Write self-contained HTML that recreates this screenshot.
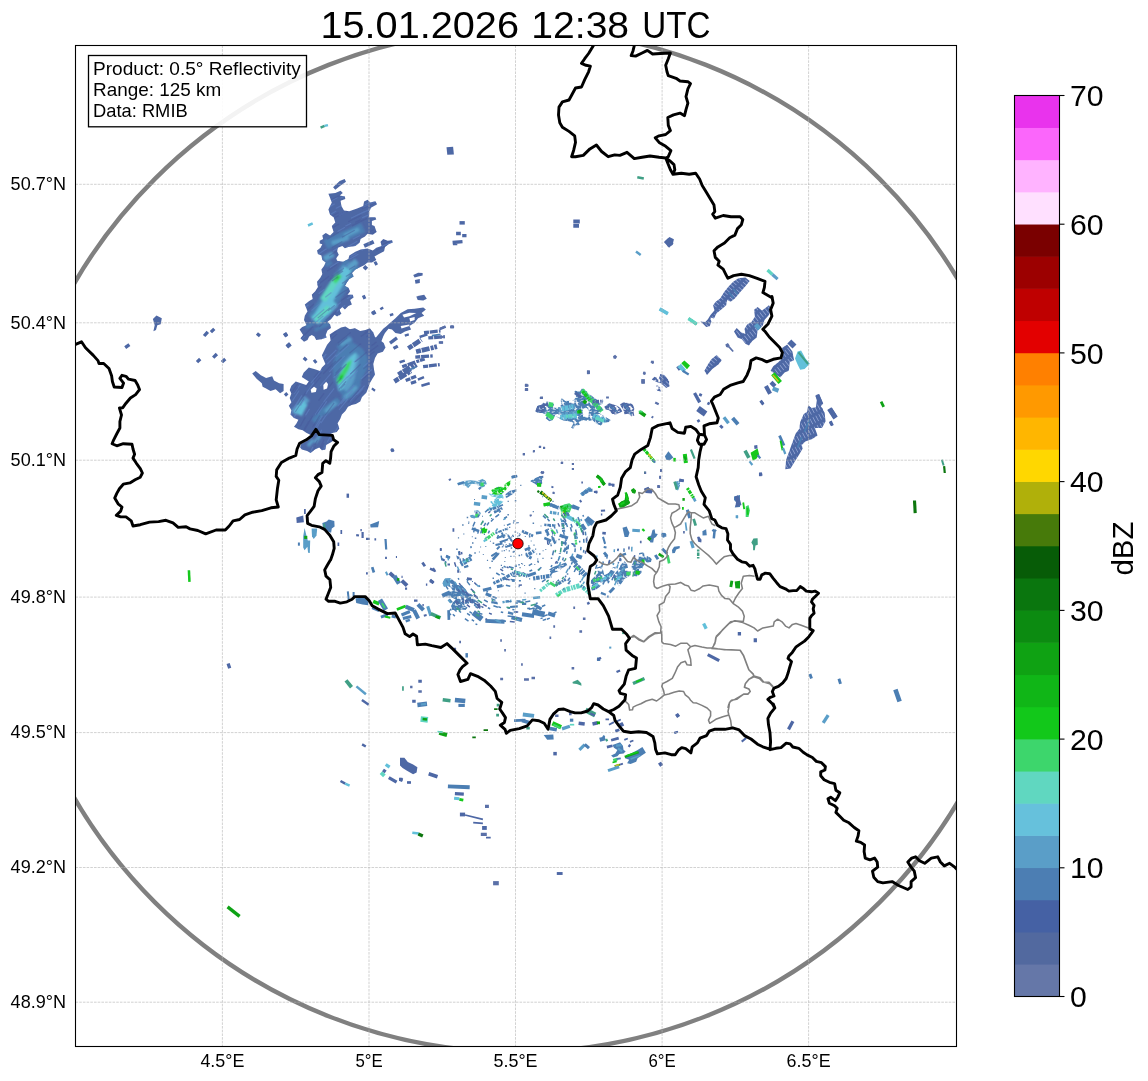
<!DOCTYPE html>
<html><head><meta charset="utf-8"><title>Radar</title>
<style>html,body{margin:0;padding:0;background:#fff}svg{display:block}text{font-family:"Liberation Sans",sans-serif;fill:#000}</style></head>
<body>
<svg width="1148" height="1081" viewBox="0 0 1148 1081">
<rect width="1148" height="1081" fill="#fff"/>
<defs><clipPath id="c"><rect x="75.5" y="45.5" width="881.0" height="1001.0"/></clipPath><filter id="bl" x="0" y="0" width="1148" height="1081" filterUnits="userSpaceOnUse"><feGaussianBlur stdDeviation="0.45"/></filter><filter id="bl2" x="0" y="0" width="1148" height="1081" filterUnits="userSpaceOnUse"><feGaussianBlur stdDeviation="0.9"/></filter></defs>
<defs><path id="sp" d="M3.3 7.6h2.5v2.5h-2.5zM8.8 0.9h1.5v2.5h-1.5zM3.6 3.3h3v2.5h-3zM5.6 12.1h2v1.5h-2zM12.2 7.3h1.5v1.2h-1.5zM2.2 13.4h1.5v2h-1.5zM2.2 -0.6h1.5v2h-1.5zM10.9 11.5h2.5v2.5h-2.5zM10.9 -2.5h2.5v2.5h-2.5zM8.3 12.9h3v2.5h-3zM8.3 -1.1h3v2.5h-3zM5.5 11.2h3v1.5h-3zM12.3 1.4h2v2.5h-2zM-1.7 1.4h2v2.5h-2zM3.0 13.5h3v2h-3zM3.0 -0.5h3v2h-3zM5.9 11.7h4v2h-4zM7.5 5.7h2v2h-2zM9.5 13.0h2.5v1.5h-2.5zM9.5 -1.0h2.5v1.5h-2.5zM9.8 4.6h4v1.2h-4zM10.0 3.0h4v2h-4zM4.0 0.9h3v1.2h-3zM4.8 0.9h2v1.2h-2zM4.1 10.8h1.5v1.2h-1.5zM8.5 10.7h3v2h-3zM7.7 12.9h2.5v1.5h-2.5zM7.7 -1.1h2.5v1.5h-2.5zM14.0 4.3h1.5v1.2h-1.5zM-0.0 4.3h1.5v1.2h-1.5zM8.4 0.4h2v2.5h-2zM4.1 3.7h1.5v2h-1.5zM4.4 13.4h3v2.5h-3zM4.4 -0.6h3v2.5h-3zM6.4 7.3h4v1.2h-4zM8.7 13.2h4v2h-4zM8.7 -0.8h4v2h-4zM6.0 10.1h2v2h-2zM6.1 3.6h2.5v2h-2.5zM0.2 5.8h4v2h-4zM0.3 8.6h2v1.2h-2zM8.9 4.7h2.5v2h-2.5zM8.5 3.9h3v1.2h-3zM8.3 13.4h1.5v2h-1.5zM8.3 -0.6h1.5v2h-1.5zM3.5 6.4h4v2h-4zM2.5 2.6h2.5v2h-2.5zM4.2 5.3h1.5v1.5h-1.5zM4.3 3.1h2.5v1.5h-2.5zM4.6 9.5h1.5v1.2h-1.5zM8.4 13.3h2v2.5h-2zM8.4 -0.7h2v2.5h-2zM11.3 13.4h1.5v2h-1.5zM11.3 -0.6h1.5v2h-1.5zM10.4 3.1h4v2.5h-4zM-3.6 3.1h4v2.5h-4zM3.8 11.0h1.5v1.5h-1.5zM4.4 11.7h4v1.5h-4zM12.1 4.8h1.5v2h-1.5zM8.3 5.9h4v2h-4zM6.5 8.9h2.5v2.5h-2.5zM8.0 0.5h3v1.5h-3zM2.8 6.7h4v2.5h-4zM7.8 13.8h2v1.2h-2zM7.8 -0.2h2v1.2h-2zM10.4 11.7h4v2h-4zM-3.6 11.7h4v2h-4zM7.6 12.5h1.5v2h-1.5zM7.6 -1.5h1.5v2h-1.5zM1.7 3.4h1.5v1.5h-1.5zM12.6 12.6h4v1.2h-4zM-1.4 12.6h4v1.2h-4zM0.2 10.4h2v2h-2zM3.3 0.3h4v2.5h-4zM0.7 12.8h1.5v2h-1.5zM0.7 -1.2h1.5v2h-1.5zM1.8 13.6h4v2.5h-4zM1.8 -0.4h4v2.5h-4zM11.4 0.9h2v1.5h-2zM1.7 12.4h1.5v1.5h-1.5z"/><pattern id="pa" width="14" height="14" patternUnits="userSpaceOnUse"><use href="#sp" fill="#4e67a5"/></pattern><pattern id="pA" width="14" height="14" patternUnits="userSpaceOnUse"><use href="#sp" fill="#5a70a8"/></pattern><pattern id="pb" width="14" height="14" patternUnits="userSpaceOnUse"><use href="#sp" fill="#4b7eb3"/></pattern><pattern id="pc" width="14" height="14" patternUnits="userSpaceOnUse"><use href="#sp" fill="#5a9ec8"/></pattern><pattern id="pd" width="14" height="14" patternUnits="userSpaceOnUse"><use href="#sp" fill="#62c0da"/></pattern><pattern id="pe" width="14" height="14" patternUnits="userSpaceOnUse"><use href="#sp" fill="#5fd5c2"/></pattern><pattern id="pf" width="14" height="14" patternUnits="userSpaceOnUse"><use href="#sp" fill="#3dd66c"/></pattern><pattern id="pg" width="14" height="14" patternUnits="userSpaceOnUse"><use href="#sp" fill="#12c81a"/></pattern><pattern id="ph" width="14" height="14" patternUnits="userSpaceOnUse"><use href="#sp" fill="#0fa213"/></pattern><pattern id="pi" width="14" height="14" patternUnits="userSpaceOnUse"><use href="#sp" fill="#0a760e"/></pattern><pattern id="pT" width="14" height="14" patternUnits="userSpaceOnUse"><use href="#sp" fill="#3f9f85"/></pattern><pattern id="py" width="14" height="14" patternUnits="userSpaceOnUse"><use href="#sp" fill="#c8c020"/></pattern><pattern id="po" width="14" height="14" patternUnits="userSpaceOnUse"><use href="#sp" fill="#ff9900"/></pattern><pattern id="n1" width="9" height="3.3" patternUnits="userSpaceOnUse" patternTransform="rotate(42)"><path d="M0 0h9v3.3h-9z" fill="#4e67a5"/><path d="M3 2.5h6v.8h-6z" fill="#8fa3d2"/></pattern><pattern id="n2" width="9" height="3.3" patternUnits="userSpaceOnUse" patternTransform="rotate(62)"><path d="M0 0h9v3.3h-9z" fill="#4e67a5"/><path d="M3 2.5h6v.8h-6z" fill="#8fa3d2"/></pattern><pattern id="n3" width="9" height="3.3" patternUnits="userSpaceOnUse" patternTransform="rotate(52)"><path d="M0 0h9v3.3h-9z" fill="#4e67a5"/><path d="M3 2.5h6v.8h-6z" fill="#8fa3d2"/></pattern></defs>
<g clip-path="url(#c)">
<g filter="url(#bl)">
<path d="M333.1 187.3L339.7 181.0L344.6 178.9L346.0 181.7L340.6 185.6L335.3 189.7Z" fill="#4e67a5"/>
<path d="M328.4 193.7L335.3 192.9L340.6 190.8L342.8 192.9L339.7 195.5L344.9 196.4L345.3 199.0L340.6 200.7L341.4 205.9L344.0 210.6L349.3 211.2L357.1 208.6L363.2 205.9L364.1 201.6L367.6 199.8L370.2 202.5L375.4 201.2L377.1 204.2L371.0 207.7L369.3 211.2L369.0 217.3L375.4 217.3L376.3 219.4L371.9 221.1L371.9 225.1L374.5 226.0L376.6 232.1L372.8 234.7L367.6 233.8L364.9 236.4L360.6 239.0L359.7 242.5L355.4 246.0L348.4 246.9L344.9 248.3L342.3 246.0L337.9 247.8L337.1 251.2L338.8 254.7L336.2 258.2L337.1 260.8L343.2 261.7L348.4 259.1L349.3 255.6L355.4 251.8L360.6 249.5L367.6 248.6L372.8 250.4L376.3 247.8L381.5 246.0L380.6 241.7L383.2 239.0L387.6 240.8L392.0 240.3L392.8 242.5L388.5 244.3L385.0 246.9L384.1 251.2L378.9 253.9L374.5 256.5L376.3 259.9L371.9 262.6L367.6 262.6L364.1 265.2L358.9 267.8L355.4 269.5L351.9 273.0L353.6 276.5L349.3 279.1L346.7 282.6L344.9 286.1L348.4 287.8L350.1 291.3L347.5 294.8L352.8 294.8L353.6 297.4L350.1 300.0L351.9 304.4L348.4 306.1L344.9 309.6L342.3 307.0L339.7 309.6L340.6 313.1L337.1 316.6L334.5 314.8L331.0 319.2L327.5 321.8L330.1 324.4L331.0 327.9L327.5 330.5L325.7 334.9L326.6 337.5L321.4 339.2L316.2 340.1L314.4 336.6L311.8 334.9L309.2 336.6L307.5 340.1L304.0 341.8L300.5 338.3L303.1 334.9L299.6 329.6L302.2 327.0L306.6 325.3L304.0 320.1L304.8 315.7L307.5 311.3L304.8 304.4L309.2 300.9L312.7 299.1L311.8 294.8L315.3 291.3L317.9 287.0L317.0 281.7L320.5 277.4L322.3 273.9L321.4 269.5L324.0 266.0L325.7 262.6L322.3 259.9L321.4 255.6L317.9 253.9L317.0 250.4L320.5 247.8L322.3 244.3L319.7 243.4L319.7 240.8L323.1 239.0L322.3 235.6L325.7 232.9L330.1 235.6L333.6 232.1L331.8 226.0L335.3 222.5L333.6 217.3L330.1 214.7L328.4 209.4L330.1 205.9L331.8 202.5L330.1 198.1Z" fill="#4e67a5"/>
<path d="M308.0 225.5L312.7 223.4" stroke="#62c0da" stroke-width="2.5" fill="none"/>
<path d="M362.7 297.8L365.5 296.5" stroke="#4e67a5" stroke-width="3.9" fill="none"/>
<path d="M371.6 313.6L375.1 311.7M380.3 309.3L383.2 307.5M389.9 315.2L393.3 314.1" stroke="#4e67a5" stroke-width="2.5" fill="none"/>
<path d="M336.2 314.5L339.7 312.4M283.9 335.4L287.1 333.3M286.6 346.5L290.0 343.6" stroke="#4e67a5" stroke-width="3.3" fill="none"/>
<path d="M364.1 246.0L373.7 241.7M374.5 264.0L377.1 262.6M364.1 269.2L366.7 266.4" stroke="#4e67a5" stroke-width="3.9" fill="none"/>
<path d="M459.5 221.1L464.8 221.1L464.8 224.6L459.5 224.6Z" fill="#4e67a5"/>
<path d="M456.1 233.5L460.8 233.5M462.2 235.7L466.5 235.7M452.6 242.5L462.5 241.7M452.9 243.7L457.3 243.7" stroke="#4e67a5" stroke-width="3.3" fill="none"/>
<path d="M413.2 275.1L418.1 272.7L422.6 273.0L422.6 275.5L418.4 276.5L414.6 277.4Z" fill="#4e67a5"/>
<path d="M414.9 280.0L419.8 279.1L419.8 283.1L415.5 283.8Z" fill="#4e67a5"/>
<path d="M416.3 296.5L421.6 295.3L424.2 294.8L426.8 298.8L423.3 300.5L417.7 300.0Z" fill="#4e67a5"/>
<path d="M390.2 322.7L395.4 318.3L400.7 313.1L407.6 309.3L414.6 308.7L423.3 307.5L425.9 309.6L421.6 313.1L424.2 315.7L418.1 318.3L414.6 322.7L409.4 326.1L411.1 329.6L405.0 331.4L400.7 334.0L395.4 333.1L392.0 329.6L388.5 328.8L385.0 333.1L383.2 336.6L381.5 341.0L376.3 344.4L374.5 339.2L378.0 334.9L383.2 328.8L386.7 326.1Z" fill="#4e67a5"/>
<path d="M402.4 314.8L409.4 312.7L416.3 313.1L409.4 316.2L404.1 317.4Z" fill="#fff"/>
<path d="M409.4 318.3L414.6 316.9L414.6 320.1L410.2 321.4Z" fill="#fff"/>
<path d="M400.7 326.1L409.4 324.4L409.4 326.1L401.5 328.4Z" fill="#fff"/>
<path d="M329.7 334.4L334.9 330.9L341.0 327.4L345.4 326.6L349.8 329.2L355.0 328.3L360.2 330.9L365.4 330.0L369.8 328.3L373.3 332.6L375.0 337.0L379.4 339.6L383.7 343.1L385.5 347.5L382.9 351.8L377.6 353.6L375.0 357.9L373.3 364.0L374.1 370.1L375.0 374.5L372.4 378.8L369.8 383.2L368.0 388.4L366.3 392.8L362.0 397.1L360.2 401.5L355.9 404.1L351.5 404.9L348.0 406.7L345.4 411.0L341.9 414.5L340.2 418.9L337.6 423.2L339.3 428.5L336.7 432.0L333.2 432.8L330.6 434.0L334.9 439.8L330.6 442.4L326.2 445.0L325.4 449.4L321.9 450.2L319.3 447.6L314.9 449.4L310.6 452.9L307.1 451.1L301.8 449.4L300.1 447.6L301.0 444.1L307.1 440.7L312.3 436.3L309.7 434.6L306.2 432.8L302.7 430.2L298.4 429.3L294.0 426.7L296.6 423.2L298.4 419.8L294.0 418.0L290.5 414.5L291.4 410.2L288.8 405.8L291.4 402.3L289.7 398.0L291.4 393.6L289.7 390.1L291.4 385.8L295.7 381.4L301.0 383.2L306.2 384.9L308.8 381.4L304.5 378.8L301.8 377.1L303.6 372.7L308.8 367.5L314.9 369.2L320.1 371.0L321.9 367.5L325.4 364.0L323.6 359.7L321.9 355.3L324.5 350.1L327.1 344.8L330.6 340.5Z" fill="#4e67a5"/>
<path d="M310.6 389.3L314.0 386.7L316.7 388.4L315.8 391.9L311.4 392.8Z" fill="#fff"/>
<path d="M323.3 384.9L326.2 381.8L328.0 384.0L327.1 388.4L323.6 389.8Z" fill="#fff"/>
<path d="M252.2 373.6L255.7 371.0L260.9 375.3L266.1 377.9L272.2 376.2L274.0 380.6L279.2 383.2L283.6 384.0L283.6 391.0L280.1 393.3L275.7 389.3L270.5 391.0L266.1 388.4L262.6 386.7L261.8 383.2L256.6 378.8Z" fill="#4e67a5"/>
<path d="M257.4 336.1L259.5 333.5M284.4 336.1L287.0 334.0M287.0 346.9L290.5 344.0M304.1 360.2L306.2 357.9M314.0 362.3L316.3 360.5M372.4 313.5L375.5 311.7M372.8 390.5L374.1 388.7M391.6 450.8L393.3 449.4M337.6 314.4L340.2 312.1" stroke="#4e67a5" stroke-width="3.9" fill="none"/>
<path d="M284.9 395.4L287.4 393.3" stroke="#4e67a5" stroke-width="3.3" fill="none"/>
<clipPath id="cb"><path d="M328.4 193.7L335.3 192.9L340.6 190.8L342.8 192.9L339.7 195.5L344.9 196.4L345.3 199.0L340.6 200.7L341.4 205.9L344.0 210.6L349.3 211.2L357.1 208.6L363.2 205.9L364.1 201.6L367.6 199.8L370.2 202.5L375.4 201.2L377.1 204.2L371.0 207.7L369.3 211.2L369.0 217.3L375.4 217.3L376.3 219.4L371.9 221.1L371.9 225.1L374.5 226.0L376.6 232.1L372.8 234.7L367.6 233.8L364.9 236.4L360.6 239.0L359.7 242.5L355.4 246.0L348.4 246.9L344.9 248.3L342.3 246.0L337.9 247.8L337.1 251.2L338.8 254.7L336.2 258.2L337.1 260.8L343.2 261.7L348.4 259.1L349.3 255.6L355.4 251.8L360.6 249.5L367.6 248.6L372.8 250.4L376.3 247.8L381.5 246.0L380.6 241.7L383.2 239.0L387.6 240.8L392.0 240.3L392.8 242.5L388.5 244.3L385.0 246.9L384.1 251.2L378.9 253.9L374.5 256.5L376.3 259.9L371.9 262.6L367.6 262.6L364.1 265.2L358.9 267.8L355.4 269.5L351.9 273.0L353.6 276.5L349.3 279.1L346.7 282.6L344.9 286.1L348.4 287.8L350.1 291.3L347.5 294.8L352.8 294.8L353.6 297.4L350.1 300.0L351.9 304.4L348.4 306.1L344.9 309.6L342.3 307.0L339.7 309.6L340.6 313.1L337.1 316.6L334.5 314.8L331.0 319.2L327.5 321.8L330.1 324.4L331.0 327.9L327.5 330.5L325.7 334.9L326.6 337.5L321.4 339.2L316.2 340.1L314.4 336.6L311.8 334.9L309.2 336.6L307.5 340.1L304.0 341.8L300.5 338.3L303.1 334.9L299.6 329.6L302.2 327.0L306.6 325.3L304.0 320.1L304.8 315.7L307.5 311.3L304.8 304.4L309.2 300.9L312.7 299.1L311.8 294.8L315.3 291.3L317.9 287.0L317.0 281.7L320.5 277.4L322.3 273.9L321.4 269.5L324.0 266.0L325.7 262.6L322.3 259.9L321.4 255.6L317.9 253.9L317.0 250.4L320.5 247.8L322.3 244.3L319.7 243.4L319.7 240.8L323.1 239.0L322.3 235.6L325.7 232.9L330.1 235.6L333.6 232.1L331.8 226.0L335.3 222.5L333.6 217.3L330.1 214.7L328.4 209.4L330.1 205.9L331.8 202.5L330.1 198.1Z M329.7 334.4L334.9 330.9L341.0 327.4L345.4 326.6L349.8 329.2L355.0 328.3L360.2 330.9L365.4 330.0L369.8 328.3L373.3 332.6L375.0 337.0L379.4 339.6L383.7 343.1L385.5 347.5L382.9 351.8L377.6 353.6L375.0 357.9L373.3 364.0L374.1 370.1L375.0 374.5L372.4 378.8L369.8 383.2L368.0 388.4L366.3 392.8L362.0 397.1L360.2 401.5L355.9 404.1L351.5 404.9L348.0 406.7L345.4 411.0L341.9 414.5L340.2 418.9L337.6 423.2L339.3 428.5L336.7 432.0L333.2 432.8L330.6 434.0L334.9 439.8L330.6 442.4L326.2 445.0L325.4 449.4L321.9 450.2L319.3 447.6L314.9 449.4L310.6 452.9L307.1 451.1L301.8 449.4L300.1 447.6L301.0 444.1L307.1 440.7L312.3 436.3L309.7 434.6L306.2 432.8L302.7 430.2L298.4 429.3L294.0 426.7L296.6 423.2L298.4 419.8L294.0 418.0L290.5 414.5L291.4 410.2L288.8 405.8L291.4 402.3L289.7 398.0L291.4 393.6L289.7 390.1L291.4 385.8L295.7 381.4L301.0 383.2L306.2 384.9L308.8 381.4L304.5 378.8L301.8 377.1L303.6 372.7L308.8 367.5L314.9 369.2L320.1 371.0L321.9 367.5L325.4 364.0L323.6 359.7L321.9 355.3L324.5 350.1L327.1 344.8L330.6 340.5Z"/></clipPath>
<g clip-path="url(#cb)"><g filter="url(#bl2)">
<path d="M325.5 244.8L363.2 227.5" stroke="#4b7eb3" stroke-width="10.0" fill="none"/>
<path d="M331.8 243.2L348.5 238.0M344.4 235.9L359.0 229.1" stroke="#5a9ec8" stroke-width="4.3" fill="none"/>
<path d="M324.0 258.9L333.4 253.9" stroke="#5a9ec8" stroke-width="5.7" fill="none"/>
<path d="M325.5 265.4L331.8 262.2" stroke="#4b7eb3" stroke-width="4.0" fill="none"/>
<path d="M316.1 320.6L352.7 263.1" stroke="#4b7eb3" stroke-width="18.4" fill="none"/>
<path d="M348.5 268.3L356.9 261.0" stroke="#5a9ec8" stroke-width="6.0" fill="none"/>
<path d="M315.6 321.1L347.5 268.3" stroke="#62c0da" stroke-width="9.4" fill="none"/>
<path d="M322.9 300.2L338.6 275.6M314.6 321.1L328.2 307.5" stroke="#5fd5c2" stroke-width="6.7" fill="none"/>
<path d="M333.9 281.9L340.0 274.8" stroke="#3dd66c" stroke-width="5.0" fill="none"/>
<path d="M336.8 278.6L338.3 276.9" stroke="#12c81a" stroke-width="3.0" fill="none"/>
<path d="M305.7 327.4L314.0 323.2" stroke="#4b7eb3" stroke-width="3.7" fill="none"/>
<path d="M332.5 364.2L336.8 353.1L343.7 344.5L352.2 341.9L362.5 348.8L367.7 357.4L366.8 369.4L360.8 381.3L357.4 389.9L352.2 397.6L345.3 398.5L340.2 393.3L336.8 386.6L333.4 378.0Z" fill="#4b7eb3"/>
<path d="M339.7 371.8L344.2 362.1L348.7 356.8L354.7 353.0L359.2 355.3L358.5 362.1L356.2 369.6L354.7 378.6L351.7 386.1L347.2 392.2L344.2 389.9L341.1 384.7L339.7 378.6Z" fill="#5a9ec8"/>
<path d="M337.5 379.4L343.8 364.8L351.1 356.4L356.3 352.3L355.3 362.7L353.2 373.2L346.9 379.4L342.7 388.9L338.5 390.9Z" fill="#62c0da"/>
<path d="M337.0 379.4L340.6 373.2L346.9 362.7L352.1 359.6L349.0 369.0L343.8 377.4L340.1 383.6L337.5 383.6Z" fill="#3dd66c"/>
<path d="M340.1 379.4L342.7 375.3" stroke="#12c81a" stroke-width="3.3" fill="none"/>
<path d="M338.5 349.1L351.1 337.6" stroke="#4b7eb3" stroke-width="6.7" fill="none"/>
<path d="M340.6 344.9L351.1 338.7" stroke="#5a9ec8" stroke-width="3.3" fill="none"/>
<path d="M293.6 413.0L307.2 398.3" stroke="#5a9ec8" stroke-width="6.7" fill="none"/>
<path d="M294.6 411.8L304.0 401.4" stroke="#62c0da" stroke-width="3.3" fill="none"/>
<path d="M319.7 413.0L338.5 400.3" stroke="#4b7eb3" stroke-width="5.0" fill="none"/>
<path d="M329.1 408.7L338.5 402.4" stroke="#5a9ec8" stroke-width="2.3" fill="none"/>
<path d="M314.5 320.9L334.4 302.1" stroke="#62c0da" stroke-width="10.0" fill="none"/>
<path d="M315.5 319.9L329.1 307.3" stroke="#5fd5c2" stroke-width="6.0" fill="none"/>
<path d="M314.5 330.3L329.1 324.0" stroke="#4b7eb3" stroke-width="3.3" fill="none"/>
</g></g>
<g clip-path="url(#cb)"><g filter="url(#bl2)">
<path d="M342.8 399.7L359.3 383.2M323.6 413.7L338.4 399.7M313.2 421.5L321.9 412.8" stroke="#4b7eb3" stroke-width="5.6" fill="none"/>
<path d="M344.5 398.0L356.7 386.7M325.4 411.9L335.8 402.3" stroke="#5a9ec8" stroke-width="3.9" fill="none"/>
<path d="M298.9 414.5L304.8 403.2" stroke="#62c0da" stroke-width="6.1" fill="none"/>
<path d="M314.9 442.4L320.1 435.4M307.9 445.9L313.2 439.8" stroke="#5a9ec8" stroke-width="3.3" fill="none"/>
</g></g>
<g clip-path="url(#cb)"><path d="M387.1 401.4L400.2 390.4M359.4 444.8L363.4 438.7M349.2 190.5L357.0 186.9M305.5 415.4L309.6 408.9M381.9 246.4L389.8 243.0M389.7 342.3L401.8 335.1M393.2 443.4L399.4 436.1M292.0 275.1L302.3 266.7M320.9 423.2L327.3 413.3M295.2 465.9L297.3 460.0M371.0 292.5L382.3 286.2M388.1 243.8L402.1 238.2M323.3 339.7L334.7 329.4M376.5 198.5L392.7 192.3M383.3 285.6L398.7 278.2M306.2 209.3L312.8 205.2M293.3 472.1L297.4 460.4M376.1 317.7L385.6 312.0M342.1 427.1L346.4 420.8M371.5 217.6L381.8 213.2M336.7 477.3L343.0 462.3M366.3 324.2L374.2 318.9M394.8 464.1L402.7 453.0M315.3 414.6L324.6 401.1M360.8 379.3L372.0 369.2M339.0 410.0L347.9 398.8M348.2 190.9L359.6 185.7M373.7 374.4L385.9 364.7M374.0 288.5L388.2 281.0M389.9 335.8L400.6 329.6M337.5 387.4L347.5 376.7M349.9 378.5L357.9 370.8M365.6 194.4L372.9 191.3M363.0 366.9L367.9 362.7M301.5 278.0L307.9 272.9M327.2 364.0L336.4 354.7M330.0 267.4L339.2 261.4M291.7 362.6L296.2 357.1M391.5 422.1L399.4 414.4M301.4 359.6L309.9 350.1M327.2 442.3L330.1 437.0M300.1 370.8L310.9 358.0M320.0 467.0L324.1 457.3M316.4 470.1L320.8 459.0M339.1 269.7L349.1 263.5M317.7 414.3L326.8 401.2M389.6 410.9L396.2 404.8M318.2 362.5L326.3 354.0M300.4 405.7L305.6 397.7M344.2 320.4L352.4 314.2M311.4 320.4L324.2 309.3M370.1 310.2L381.2 303.6M385.5 297.3L395.0 292.4M373.9 206.8L388.7 200.8M373.7 447.7L378.1 441.4M320.8 232.1L331.9 225.4M375.3 415.7L385.0 405.6M397.2 386.8L402.5 382.9M391.8 390.4L397.7 385.7M353.9 305.2L360.5 300.8M328.8 207.1L334.6 203.9M301.2 311.3L308.4 304.7M324.9 204.3L337.5 197.5M384.5 346.8L395.8 339.5M369.4 334.5L375.7 330.2M305.6 393.8L313.9 382.7M300.8 357.6L306.7 351.0M370.8 196.1L384.4 190.7M361.6 250.3L368.2 246.9M302.1 367.0L308.7 359.2M325.3 297.3L331.4 292.6M334.4 432.8L341.0 422.6M330.7 214.2L336.3 211.1M341.0 404.0L344.8 399.4M334.3 319.9L340.0 315.4M330.5 439.3L334.4 432.5M316.7 255.3L326.5 248.7M387.6 385.3L398.8 376.7M357.4 271.4L369.7 264.5M290.0 252.8L295.5 248.6M320.7 321.5L327.9 315.3M310.9 383.2L322.0 369.9M284.3 206.6L297.1 198.1M394.4 335.4L403.3 330.4M342.5 454.6L345.6 448.7M292.3 261.1L300.9 254.5M391.2 238.3L402.5 233.9M319.1 219.0L329.9 212.6M308.2 193.1L319.0 186.8M352.9 397.9L364.6 385.7M310.5 220.5L318.8 215.4M321.4 223.8L327.4 220.2M350.5 256.6L356.4 253.3M318.6 293.7L324.3 289.3M347.5 446.3L354.8 434.5M373.0 377.3L386.7 366.3M376.0 295.8L382.6 292.2M361.4 268.0L367.3 264.7M291.3 225.0L299.8 219.2M311.5 310.6L319.4 303.9M378.3 394.5L383.6 389.8M335.6 459.4L342.6 445.6M336.2 312.1L345.2 305.3M393.6 356.8L399.7 352.9M391.5 196.5L403.7 192.3M310.3 266.4L317.1 261.5M313.0 288.0L320.1 282.5M354.8 301.4L361.2 297.1M302.5 217.0L314.8 209.2M320.3 385.9L331.0 373.4M286.6 335.6L295.6 326.1M288.9 277.3L297.0 270.5M391.9 423.3L404.3 411.5M372.1 291.6L383.6 285.2M294.3 212.7L302.8 207.1M321.7 454.0L325.8 445.6M359.6 465.0L367.8 450.4M351.8 247.4L362.6 241.6M347.3 298.8L352.3 295.4M384.9 449.7L393.0 439.1M347.3 392.7L354.4 385.0M313.8 368.5L325.1 356.1M309.2 206.1L320.2 199.6M331.0 310.0L340.8 302.5M354.7 464.1L358.5 456.8M352.7 239.3L360.0 235.5M364.8 204.8L375.6 200.1M376.8 374.1L390.3 363.7M338.8 215.7L346.1 211.8M350.9 218.2L364.5 211.6M363.7 455.7L373.1 441.0M297.7 205.6L304.9 201.1M366.8 211.0L376.7 206.7M349.7 295.6L361.7 287.9M294.0 407.7L301.9 395.4M323.7 401.8L334.2 388.4M362.4 414.7L370.9 405.0M342.2 201.8L352.1 196.9M314.8 215.4L324.8 209.4M387.9 213.0L397.5 209.4M325.7 191.8L333.7 187.6M288.8 252.6L302.9 242.0M317.8 463.6L323.6 450.6M370.0 312.3L381.2 305.5M287.5 195.9L300.4 187.7M382.7 297.0L398.7 288.8M368.3 309.8L383.5 300.8M316.3 322.0L323.3 315.8M335.7 208.5L345.0 203.6M287.9 428.8L296.2 413.4M389.4 454.8L393.1 449.6M366.3 295.1L379.6 287.5M363.9 212.2L370.6 209.2M336.0 356.7L349.1 344.9M347.5 396.3L352.5 390.6M369.7 307.5L380.0 301.3M340.3 198.3L349.8 193.5M333.6 377.8L345.4 365.5M388.0 462.9L398.2 448.4M293.1 318.0L303.9 307.8M317.2 347.8L328.6 336.7M347.2 246.9L357.3 241.3M304.2 465.0L307.5 456.5M315.3 427.1L322.4 415.6M316.3 439.7L321.7 429.9M292.2 401.1L299.2 390.5M342.6 436.1L346.1 430.6M354.0 362.3L360.5 356.6M362.2 212.9L368.3 210.0M363.0 207.5L375.6 202.0M316.0 271.9L320.9 268.3M337.5 231.4L345.0 227.2M297.0 287.8L302.4 283.3M304.3 227.8L314.2 221.3M386.1 228.1L394.6 224.6M347.1 377.6L355.0 369.9M297.8 262.0L306.0 255.8M358.7 460.8L362.2 454.3M355.6 430.8L363.4 420.4M356.8 394.6L363.2 388.1M294.0 393.8L300.2 384.8M306.7 461.0L312.9 446.8M333.1 251.1L338.5 247.8M342.2 458.6L350.4 443.3M300.2 340.7L305.0 335.6M313.6 348.2L326.2 335.8M384.9 296.9L397.1 290.7M345.3 226.3L351.1 223.2M385.9 351.9L396.0 345.3M337.6 406.3L345.9 396.0M362.0 217.9L378.4 210.6M333.3 367.3L344.9 355.9M349.4 259.3L358.3 254.2M368.3 284.0L379.8 277.7M386.6 267.5L395.7 263.3M334.1 466.7L337.1 459.8M288.3 458.5L291.9 449.4M378.2 380.8L386.0 374.4M355.1 414.9L360.1 408.8M372.8 426.1L377.0 421.1M309.3 470.2L315.3 455.1M329.3 371.9L335.3 365.6M349.9 401.4L358.0 392.4M325.6 360.4L336.4 349.8M316.7 427.9L320.6 421.2M297.6 319.4L305.8 311.7M288.9 418.2L296.6 405.1M364.6 432.8L372.9 422.2M307.8 206.4L316.5 201.2M309.4 188.7L319.1 183.2" stroke="#5f84c4" stroke-width="1.2" opacity="0.55" fill="none"/><path d="M353.2 402.1L363.8 390.7M287.1 323.8L299.3 311.6M336.3 258.5L346.9 252.0M317.4 453.0L324.1 439.4M355.2 222.4L360.6 219.8M394.9 437.1L401.3 430.1M309.6 459.7L315.4 446.6M326.4 234.3L333.0 230.3M287.4 382.3L293.3 374.1M319.3 326.9L330.2 317.4M370.5 428.2L374.4 423.4M287.6 200.6L294.4 196.1M389.3 457.6L395.2 449.4M297.5 404.8L306.2 391.8M294.9 286.4L305.2 277.8M345.8 276.6L354.1 271.5M364.1 472.6L367.6 465.5M329.1 256.1L340.2 249.1M294.8 449.0L297.4 443.2M367.0 461.5L374.0 449.9M304.1 429.9L308.7 421.6M392.1 317.0L402.6 311.5M329.9 229.4L339.0 224.1M342.0 283.4L347.9 279.5M325.3 415.2L334.2 402.8M327.0 389.4L333.0 382.2M319.5 460.8L325.2 448.2M313.9 380.9L321.3 372.0M323.2 374.0L333.3 363.1M378.8 386.8L392.6 375.6M304.0 430.9L312.6 416.0M363.4 237.3L377.3 230.7M354.1 410.9L363.1 400.6M335.5 373.4L341.5 367.2M339.0 251.2L344.7 247.8M306.3 198.1L316.3 192.2M314.8 445.1L317.5 439.7M300.1 426.5L305.2 417.4M344.5 285.2L355.4 278.2M375.3 371.3L383.5 364.8M391.6 466.4L399.0 455.4M297.4 351.2L306.4 341.3M327.9 310.7L334.8 305.3M391.6 450.5L399.8 440.3M328.3 281.0L343.1 270.9M299.8 366.5L307.1 357.9M288.3 340.2L294.6 333.4M311.9 233.9L327.0 224.3M355.2 361.9L366.6 352.3M344.7 283.4L352.7 278.2M369.4 355.3L374.5 351.4M385.1 342.2L390.3 338.8M363.4 369.0L372.4 361.4M379.3 242.9L388.1 239.1M362.4 310.9L370.4 305.8M338.1 345.4L347.1 337.6M375.2 206.2L383.4 202.8M287.8 398.3L297.8 383.6M376.4 250.3L388.9 244.6M320.4 450.1L323.9 443.1M355.1 198.9L361.8 195.9M347.8 402.7L358.8 390.4M349.1 329.7L363.0 319.4M302.7 369.5L310.5 360.3M315.7 345.4L322.2 339.0M310.0 295.4L321.6 286.2M297.2 378.2L301.5 372.6M382.2 324.5L390.7 319.4M288.8 233.0L303.0 223.0M390.6 379.2L403.4 369.9M310.5 284.0L321.2 275.9M375.3 374.5L387.6 364.8M349.5 353.1L360.9 343.6M305.1 200.5L319.4 192.0M338.3 444.4L345.2 432.8M302.7 233.3L311.4 227.4M314.7 266.4L321.2 261.8M291.5 453.3L295.6 443.7M340.2 457.7L343.6 451.1M366.4 233.3L374.0 229.7M332.0 467.2L336.2 457.7M367.7 392.4L373.4 386.9M353.7 312.6L368.4 302.8M329.6 200.7L340.7 194.9M293.3 209.8L307.4 200.8M312.1 202.1L321.4 196.7M320.8 201.2L326.5 198.0M331.6 338.7L336.9 334.1M384.6 360.1L398.1 351.0M339.6 351.4L347.4 344.4M317.7 318.1L329.9 307.9M295.4 411.8L303.9 398.5M312.2 211.9L321.7 206.2M363.2 200.4L370.9 197.0M330.0 278.7L342.5 270.3M369.0 352.2L378.1 345.4M366.7 388.0L373.5 381.7M293.5 235.9L301.0 230.6M371.4 345.7L376.6 342.0M380.9 461.1L388.3 450.0M320.6 191.6L332.1 185.5M342.0 237.3L354.7 230.3M296.4 280.7L309.6 270.1M371.1 457.1L377.8 446.6M376.7 306.2L382.4 302.9M340.2 440.9L345.8 431.7M345.6 290.8L358.2 282.7M392.4 430.2L403.8 418.7M378.7 326.4L384.2 323.0M381.9 244.9L396.2 238.7M355.2 417.2L361.9 409.0M306.6 299.0L314.1 292.7M338.8 389.5L346.0 381.4M361.6 380.2L370.8 371.8M360.9 336.6L368.5 331.1M349.1 407.0L358.6 396.0M361.9 208.6L375.6 202.5M361.1 429.7L370.2 418.1M380.5 256.7L396.7 249.5M327.0 239.3L338.8 232.2M326.3 219.6L338.7 212.5M383.1 247.6L392.0 243.7M303.5 371.1L313.3 359.6M376.8 441.2L385.9 429.6M385.3 273.2L393.8 269.2M288.1 221.6L298.6 214.3M350.2 374.1L360.6 364.3M379.2 462.0L384.4 453.7M310.2 389.9L320.2 377.3M303.9 213.6L310.5 209.4M365.9 423.6L376.1 411.7M357.1 463.3L360.4 456.8M325.7 320.2L336.7 311.2M346.7 294.0L352.9 289.9M340.7 467.2L348.3 451.6M317.5 221.3L327.6 215.3M327.1 271.2L337.0 264.5M316.1 285.9L329.0 276.2M314.0 377.5L318.4 372.2M393.7 342.0L402.9 336.6M372.1 189.2L386.3 183.7M335.4 297.6L345.4 290.6M335.9 321.7L341.4 317.3M341.1 202.5L350.6 197.7M383.8 372.9L394.7 364.8M331.4 441.0L339.6 427.3M370.9 442.3L375.5 436.0M394.2 248.8L404.5 244.7M359.7 221.9L366.9 218.4M386.1 440.5L391.4 434.1M351.9 225.9L359.8 221.9M306.9 310.3L313.8 304.2M300.5 339.0L313.0 326.5M356.4 294.6L365.2 289.1M313.3 350.3L319.7 343.8M340.9 388.4L345.0 383.9M355.0 413.5L359.3 408.4M323.8 193.4L332.2 188.8M325.3 340.9L336.2 331.2M315.9 237.1L330.5 227.9M341.1 300.6L355.2 291.0M300.6 288.8L309.8 281.2M292.4 212.9L300.8 207.3M316.1 414.5L324.5 402.2M329.6 367.4L335.9 361.0M385.2 236.9L392.2 233.9M284.4 201.7L297.7 193.0M348.2 221.8L361.3 215.2M391.2 217.8L397.6 215.4M334.8 375.9L346.5 364.0M375.9 222.2L389.7 216.5M366.5 336.7L380.4 327.2M317.2 458.7L320.7 451.0M331.9 367.0L341.7 357.3M360.2 316.0L371.0 308.9M337.9 343.2L350.7 332.4M373.2 426.9L379.4 419.6M381.7 263.2L394.0 257.6M371.5 282.6L377.9 279.1M293.7 467.0L297.3 457.1M332.0 280.9L337.9 276.8M381.2 204.6L390.1 201.1M385.5 331.2L391.7 327.4M349.0 269.5L355.3 265.8M334.6 217.9L348.0 210.7M393.7 342.5L403.4 336.8M331.9 247.8L342.3 241.5M384.0 281.2L398.2 274.4M388.3 320.5L398.2 315.1M318.5 400.7L324.0 393.4M298.9 246.9L310.6 238.6M301.8 234.8L307.6 230.8M305.8 387.0L310.1 381.2M293.7 393.4L297.9 387.3M353.6 329.1L367.0 319.5M381.4 224.9L391.6 220.8M357.1 406.2L367.0 395.3M379.5 376.9L388.2 370.1M364.5 333.1L376.5 324.9M337.4 188.7L351.4 182.0M345.9 323.7L351.8 319.1M312.6 427.2L319.8 415.4M314.0 191.2L326.2 184.5M331.7 276.4L344.0 268.2M336.6 383.0L341.2 378.1M289.8 193.2L302.7 185.1M373.1 324.1L383.5 317.6M354.5 428.3L362.6 417.6M288.4 445.2L296.0 429.0M298.3 292.6L303.7 288.0" stroke="#44599a" stroke-width="1.2" opacity="0.45" fill="none"/></g>
<path d="M439.7 329.2L445.7 326.6M450.1 326.9L454.1 326.9M438.8 342.6L443.1 342.6M419.6 337.0L427.5 334.4M404.8 335.6L408.8 334.4M399.6 362.3L404.8 360.6M417.9 379.7L424.0 377.1M421.4 385.8L429.7 383.2M390.9 451.1L393.8 449.4" stroke="#4e67a5" stroke-width="2.5" fill="none"/>
<path d="M390.0 343.1L397.0 337.9" stroke="#4e67a5" stroke-width="3.3" fill="none"/>
<path d="M424.0 332.7L440.5 330.9M428.3 337.9L444.9 336.7M415.3 357.1L432.7 355.9M402.2 366.7L424.8 358.8M423.1 366.7L439.7 364.6M405.7 380.6L416.1 376.2" stroke="#4e67a5" stroke-width="3.3" stroke-dasharray="5 0.8 8 1.2 3 0.8" fill="none"/>
<path d="M408.3 348.4L421.4 339.7M416.1 351.8L437.0 346.6M394.4 381.5L410.9 371.0" stroke="#4e67a5" stroke-width="4.7" stroke-dasharray="5 0.8 8 1.2 3 0.8" fill="none"/>
<path d="M398.7 375.4L416.1 364.0" stroke="#4e67a5" stroke-width="6.1" stroke-dasharray="5 0.8 8 1.2 3 0.8" fill="none"/>
<path d="M393.5 348.4L397.8 346.1M410.9 383.2L416.1 381.5" stroke="#4e67a5" stroke-width="3.3" fill="none"/>
<path d="M431.8 335.6L440.5 334.4M409.2 370.1L416.1 366.7" stroke="#4b7eb3" stroke-width="1.7" fill="none"/>
<path d="M525.0 385.5L528.5 385.5M525.0 389.7L528.0 389.7M539.8 398.0L543.0 398.0M539.0 446.8L541.2 446.8M543.0 448.0L545.1 448.0M533.2 451.1L534.9 451.1M522.8 454.1L525.0 454.1M561.1 462.8L563.2 462.8M572.1 463.9L573.8 463.9M572.1 468.9L574.0 468.9M540.7 472.9L544.2 472.1M512.0 476.8L517.2 476.1M539.0 477.3L543.3 476.8" stroke="#5a70a8" stroke-width="2.0" fill="none"/>
<path d="M586.9 372.2L590.0 372.2" stroke="#5a70a8" stroke-width="3.3" fill="none"/>
<path d="M535.3 411.6L537.4 406.0L542.3 404.6L543.7 401.8L549.3 401.8L554.1 404.6L552.8 407.4L557.6 408.1L561.8 404.6L560.4 400.4L561.8 398.3L565.3 401.1L573.0 400.4L576.4 396.9L573.7 392.8L575.1 390.7L579.9 391.4L582.0 388.6L586.9 391.4L590.4 394.8L593.9 397.6L598.0 400.4L603.6 400.4L602.2 403.9L598.0 405.3L602.2 407.4L603.6 410.2L598.0 412.3L603.6 415.7L610.6 419.9L609.2 422.0L603.6 422.7L600.8 425.5L596.0 423.4L592.5 419.9L588.3 421.3L583.4 419.9L578.5 422.0L579.9 424.8L574.4 426.2L573.7 429.7L570.9 428.3L573.7 422.7L568.8 421.3L563.2 420.6L558.3 417.8L554.8 415.7L552.8 419.9L549.3 421.3L545.8 418.5L546.5 415.1L542.3 413.0L538.1 413.0Z" fill="url(#pb)"/>
<path d="M535.3 411.6L537.4 406.0L542.3 404.6L543.7 401.8L548.6 401.8L547.9 406.0L545.1 408.1L544.4 411.6L540.9 413.0Z" fill="url(#pa)"/>
<path d="M559.0 410.2L575.7 406.0M561.8 415.1L578.5 413.0" stroke="#5a9ec8" stroke-width="4.9" stroke-dasharray="2.2 0.8 3.6 1.1 1.5 0.7" fill="none"/>
<path d="M560.4 417.4L577.8 415.7M593.2 415.7L605.7 421.0M561.8 408.8L573.0 406.7" stroke="#62c0da" stroke-width="4.9" stroke-dasharray="2.2 0.8 3.6 1.1 1.5 0.7" fill="none"/>
<path d="M595.3 417.8L603.6 421.0" stroke="#5fd5c2" stroke-width="3.1" fill="none"/>
<path d="M566.0 416.4L575.7 415.5" stroke="#5fd5c2" stroke-width="3.1" stroke-dasharray="2.2 0.8 3.6 1.1 1.5 0.7" fill="none"/>
<path d="M546.5 413.7L553.4 418.5M548.6 404.3L553.2 404.9" stroke="#3dd66c" stroke-width="4.5" fill="none"/>
<path d="M582.0 390.0L602.2 411.6" stroke="#3dd66c" stroke-width="4.5" stroke-dasharray="2.2 0.8 3.6 1.1 1.5 0.7" fill="none"/>
<path d="M577.1 412.3L581.3 411.3" stroke="#12c81a" stroke-width="3.1" fill="none"/>
<path d="M582.7 391.4L589.7 400.4" stroke="#12c81a" stroke-width="3.1" stroke-dasharray="2.2 0.8 3.6 1.1 1.5 0.7" fill="none"/>
<path d="M583.4 400.7L586.2 403.2M578.5 411.8L581.3 411.3" stroke="#0fa213" stroke-width="3.6" fill="none"/>
<path d="M575.1 392.8L581.3 397.6" stroke="#4e67a5" stroke-width="3.1" fill="none"/>
<path d="M592.5 401.8L602.9 401.1" stroke="#4e67a5" stroke-width="3.1" stroke-dasharray="2.2 0.8 3.6 1.1 1.5 0.7" fill="none"/>
<path d="M582.7 408.8L586.9 408.1L589.0 410.9L588.3 415.7L584.8 416.4L582.7 413.7Z" fill="#fff"/>
<path d="M604.3 406.7L609.2 403.2L613.4 404.6L617.6 406.0L620.3 408.1L622.4 411.6L617.6 413.7L614.8 415.7L612.0 413.7L609.2 410.2L605.7 409.5Z" fill="url(#pa)"/>
<path d="M619.7 404.6L623.1 402.5L628.7 402.5L632.9 404.6L634.3 408.8L633.6 412.3L634.3 415.7L631.5 416.4L628.0 413.7L624.5 414.4L623.8 410.9L621.7 407.4Z" fill="url(#pa)"/>
<path d="M609.2 405.3L617.6 412.3M624.5 404.6L631.5 414.4" stroke="#4b7eb3" stroke-width="1.8" stroke-dasharray="2.2 0.8 3.6 1.1 1.5 0.7" fill="none"/>
<path d="M639.6 411.8L645.4 415.7" stroke="#0fa213" stroke-width="3.6" fill="none"/>
<path d="M638.7 411.3L642.6 411.8" stroke="#3dd66c" stroke-width="1.7" fill="none"/>
<path d="M641.3 380.2L643.3 379.2L645.0 380.9L644.5 383.4L642.0 383.4Z" fill="url(#pA)"/>
<path d="M651.7 379.5L654.5 376.7L658.7 378.8L660.1 375.3L664.9 376.0L669.1 380.9L669.1 386.5L665.6 387.2L662.2 384.4L659.4 383.0L657.3 382.3Z" fill="url(#pa)"/>
<path d="M655.2 386.5L657.3 385.1L661.5 388.6L660.8 391.4L657.3 390.7Z" fill="url(#pa)"/>
<path d="M643.3 372.5L645.4 373.9M651.0 361.4L653.5 363.1M655.2 402.5L658.7 404.3M651.6 416.6L653.2 417.7" stroke="#5a70a8" stroke-width="2.2" fill="none"/>
<path d="M677.5 366.3L680.0 369.8" stroke="#4e67a5" stroke-width="3.1" fill="none"/>
<path d="M587.0 372.4L589.5 372.4" stroke="#5a70a8" stroke-width="3.6" fill="none"/>
<path d="M524.9 385.5L528.1 385.5M524.9 389.8L528.1 389.8M540.2 397.6L543.0 397.6M606.1 397.6L608.9 397.6M538.8 447.0L540.9 447.0M543.0 447.8L545.1 447.8M532.8 451.4L534.6 451.4M522.8 454.5L524.9 454.5M560.7 462.9L562.9 462.9M571.8 464.0L573.8 464.0M571.8 469.0L573.8 469.0M581.3 482.6L583.0 482.6" stroke="#5a70a8" stroke-width="2.0" fill="none"/>
<path d="M530.5 481.3L533.9 478.5L538.8 477.1L542.3 476.4L541.6 479.9L542.3 483.3L539.5 486.1L536.7 484.7L533.9 483.3Z" fill="url(#pb)"/>
<path d="M538.1 484.9L540.9 485.4" stroke="#12c81a" stroke-width="2.7" fill="none"/>
<path d="M540.9 471.8L543.7 472.6M551.4 486.6L553.4 487.5M552.8 492.4L554.6 493.5" stroke="#4e67a5" stroke-width="1.8" fill="none"/>
<path d="M537.4 491.0L551.4 500.1" stroke="#0a760e" stroke-width="2.2" stroke-dasharray="2.2 0.8 3.6 1.1 1.5 0.7" fill="none"/>
<path d="M542.3 493.5L550.0 498.7" stroke="#c8c020" stroke-width="1.7" stroke-dasharray="2.2 0.8 3.6 1.1 1.5 0.7" fill="none"/>
<path d="M543.7 504.9L550.0 503.6" stroke="#12c81a" stroke-width="3.1" fill="none"/>
<path d="M550.0 504.3L557.6 507.7M567.4 505.2L575.7 508.0" stroke="#4b7eb3" stroke-width="3.1" fill="none"/>
<path d="M560.4 508.0L568.1 506.1" stroke="#0fa213" stroke-width="4.0" fill="none"/>
<path d="M596.7 475.7L600.6 478.7M600.6 478.7L602.5 482.6M602.5 482.6L604.7 484.9" stroke="#0fa213" stroke-width="3.1" fill="none"/>
<path d="M598.7 486.8L600.6 486.8" stroke="#12c81a" stroke-width="1.8" fill="none"/>
<path d="M608.5 484.3L610.6 484.3M612.0 485.2L614.5 485.2" stroke="#5a70a8" stroke-width="3.1" fill="none"/>
<path d="M581.3 494.9L586.9 490.3M586.9 490.3L592.5 490.3" stroke="#4b7eb3" stroke-width="3.1" fill="none"/>
<path d="M594.6 491.7L597.4 492.7M579.9 500.1L581.3 502.2" stroke="#4e67a5" stroke-width="2.0" fill="none"/>
<path d="M644.0 449.2L654.5 461.7" stroke="#12c81a" stroke-width="3.1" stroke-dasharray="2.2 0.8 3.6 1.1 1.5 0.7" fill="none"/>
<path d="M648.2 453.7L651.7 457.8" stroke="#c8c020" stroke-width="1.7" fill="none"/>
<path d="M652.4 459.7L655.2 462.6" stroke="#4b7eb3" stroke-width="2.0" fill="none"/>
<path d="M664.9 456.2L668.4 451.3L671.2 454.8L673.3 457.6L669.8 460.3L666.3 459.7Z" fill="#4b7eb3"/>
<path d="M673.3 459.7L675.8 459.7" stroke="#12c81a" stroke-width="3.6" fill="none"/>
<path d="M660.1 470.4L661.9 470.4M659.1 477.2L661.0 477.2M657.3 486.4L659.7 486.4" stroke="#5a70a8" stroke-width="2.9" fill="none"/>
<path d="M644.0 472.9L645.7 472.9" stroke="#0fa213" stroke-width="2.2" fill="none"/>
<path d="M674.0 482.0L680.0 480.6L680.0 485.4L678.2 490.3L675.4 488.2Z" fill="url(#pc)"/>
<path d="M644.0 488.9L647.5 486.8L650.3 488.9L653.1 491.0L651.0 493.1L645.4 493.1Z" fill="url(#pA)"/>
<path d="M631.5 489.6L633.6 488.2L636.0 490.3L635.4 493.1L632.6 493.1Z" fill="url(#ph)"/>
<path d="M625.6 492.4L628.0 499.4" stroke="#12c81a" stroke-width="2.2" fill="none"/>
<path d="M618.3 503.6L621.7 501.5L625.9 500.1L630.1 500.8L629.4 504.3L625.9 505.6L623.8 508.0L619.7 507.7Z" fill="url(#pg)"/>
<path d="M684.8 454.0L685.9 462.9" stroke="#12c81a" stroke-width="4.0" fill="none"/>
<path d="M684.2 456.5L686.4 460.0" stroke="#0fa213" stroke-width="1.8" fill="none"/>
<path d="M457.2 483.0L463.4 480.9L470.4 480.2L477.4 480.9L483.0 478.8L485.7 480.9L487.1 485.1L483.0 487.2L478.8 487.9L477.4 484.4L471.8 483.7L468.3 487.9L465.5 486.5L462.8 485.1L457.9 485.8Z" fill="url(#pc)"/>
<path d="M457.9 484.4L464.1 482.3M478.8 489.3L480.9 487.2" stroke="#4b7eb3" stroke-width="2.2" fill="none"/>
<path d="M480.5 484.4L483.7 484.4" stroke="#3dd66c" stroke-width="3.6" fill="none"/>
<path d="M488.5 493.4L492.0 493.4L495.5 494.8L501.8 494.1L503.9 496.9L503.2 501.8L499.7 505.3L495.5 508.1L491.3 510.2L487.8 510.9L488.5 508.1L492.7 504.6L489.9 501.8L493.4 500.4L496.9 497.6L491.3 496.2Z" fill="url(#pd)"/>
<path d="M491.3 490.0L496.9 487.2L502.5 485.8L507.4 482.3L510.6 480.6L510.1 484.4L506.0 490.0L501.8 494.1L495.5 494.8L492.0 493.4Z" fill="url(#pg)"/>
<path d="M492.7 491.8L502.5 487.9" stroke="#3dd66c" stroke-width="1.8" stroke-dasharray="2.2 0.8 3.6 1.1 1.5 0.7" fill="none"/>
<path d="M505.3 494.1L510.1 490.7L516.4 489.3L516.4 491.4L510.8 495.5L506.0 498.3Z" fill="url(#pb)"/>
<path d="M511.5 477.4L517.1 476.0" stroke="#4b7eb3" stroke-width="2.7" fill="none"/>
<path d="M489.9 509.5L499.7 506.7M494.1 512.3L502.5 508.1" stroke="#4b7eb3" stroke-width="2.7" stroke-dasharray="2.2 0.8 3.6 1.1 1.5 0.7" fill="none"/>
<path d="M481.6 496.9L487.1 497.6M473.9 503.5L480.2 504.3" stroke="#5a9ec8" stroke-width="3.6" fill="none"/>
<path d="M469.7 515.7L473.9 513.7L474.6 510.2L478.1 510.2L480.9 513.0L479.5 517.1L474.6 518.5L471.1 517.8Z" fill="url(#pc)"/>
<path d="M475.3 515.5L478.8 515.2" stroke="#3dd66c" stroke-width="3.6" fill="none"/>
<path d="M471.8 528.6L478.8 531.1" stroke="#4b7eb3" stroke-width="2.7" fill="none"/>
<path d="M480.9 529.0L485.1 526.9L487.8 528.3L486.4 532.5L483.0 533.9L480.9 531.8Z" fill="url(#pg)"/>
<path d="M485.1 540.1L494.1 533.2" stroke="#3dd66c" stroke-width="3.1" stroke-dasharray="2.2 0.8 3.6 1.1 1.5 0.7" fill="none"/>
<path d="M483.7 541.5L486.4 539.4" stroke="#62c0da" stroke-width="2.2" fill="none"/>
<path d="M496.9 538.0L505.3 535.3M499.7 542.2L508.0 539.4M495.5 545.0L502.5 543.6M496.9 549.2L499.7 546.4M505.3 547.1L512.2 545.0M491.3 556.2L496.9 552.7M501.8 532.5L503.9 538.0M508.0 535.3L512.2 541.5" stroke="#4b7eb3" stroke-width="2.0" fill="none"/>
<path d="M495.5 533.2L508.0 528.3" stroke="#4b7eb3" stroke-width="2.0" stroke-dasharray="2.2 0.8 3.6 1.1 1.5 0.7" fill="none"/>
<path d="M492.7 559.7L498.3 553.4" stroke="#4b7eb3" stroke-width="2.7" fill="none"/>
<path d="M535.9 533.2L541.5 532.5M524.8 549.9L530.3 547.8M529.7 559.0L531.0 556.2" stroke="#4b7eb3" stroke-width="2.7" fill="none"/>
<path d="M522.0 531.1L533.1 536.0" stroke="#4b7eb3" stroke-width="2.7" stroke-dasharray="2.2 0.8 3.6 1.1 1.5 0.7" fill="none"/>
<path d="M526.2 556.2L534.5 550.6" stroke="#4b7eb3" stroke-width="3.6" stroke-dasharray="2.2 0.8 3.6 1.1 1.5 0.7" fill="none"/>
<path d="M530.3 480.9L534.5 478.8L540.1 476.0L542.9 477.4L541.5 482.3L540.8 486.5L537.3 485.8L534.5 483.0Z" fill="url(#pb)"/>
<path d="M537.0 484.8L541.2 484.8" stroke="#12c81a" stroke-width="3.6" fill="none"/>
<path d="M540.8 491.4L551.3 501.1" stroke="#0a760e" stroke-width="2.7" stroke-dasharray="2.2 0.8 3.6 1.1 1.5 0.7" fill="none"/>
<path d="M542.2 492.3L550.6 500.1" stroke="#c8c020" stroke-width="1.7" stroke-dasharray="2.2 0.8 3.6 1.1 1.5 0.7" fill="none"/>
<path d="M543.6 504.6L549.9 504.3" stroke="#12c81a" stroke-width="3.1" fill="none"/>
<path d="M572.2 506.0L579.1 508.8" stroke="#4b7eb3" stroke-width="3.6" fill="none"/>
<path d="M549.9 504.6L559.6 508.1" stroke="#4b7eb3" stroke-width="3.6" stroke-dasharray="2.2 0.8 3.6 1.1 1.5 0.7" fill="none"/>
<path d="M560.3 508.1L563.8 504.6L569.4 503.2L572.2 506.0L570.1 511.6L569.4 515.7L565.2 518.5L561.7 517.1L561.0 513.0Z" fill="url(#pf)"/>
<path d="M562.4 508.1L565.9 506.7L567.7 509.5L566.6 514.4L563.5 514.6Z" fill="url(#pg)"/>
<path d="M562.8 512.3L564.1 512.3" stroke="#c8c020" stroke-width="1.7" fill="none"/>
<path d="M566.6 516.0L573.6 519.9" stroke="#62c0da" stroke-width="4.0" fill="none"/>
<path d="M549.9 512.3L558.9 513.7" stroke="#5a9ec8" stroke-width="3.1" stroke-dasharray="2.2 0.8 3.6 1.1 1.5 0.7" fill="none"/>
<path d="M574.9 519.9L583.3 529.7" stroke="#5fd5c2" stroke-width="4.5" stroke-dasharray="2.2 0.8 3.6 1.1 1.5 0.7" fill="none"/>
<path d="M576.3 521.3L581.2 526.9" stroke="#3dd66c" stroke-width="1.8" fill="none"/>
<path d="M586.1 518.5L590.0 525.5" stroke="#5a9ec8" stroke-width="4.5" fill="none"/>
<path d="M581.2 494.8L590.0 487.9" stroke="#5a9ec8" stroke-width="3.1" stroke-dasharray="2.2 0.8 3.6 1.1 1.5 0.7" fill="none"/>
<path d="M559.6 535.3L568.0 538.0" stroke="#4b7eb3" stroke-width="3.1" fill="none"/>
<path d="M562.4 519.9L563.8 532.5" stroke="#4b7eb3" stroke-width="3.1" stroke-dasharray="2.2 0.8 3.6 1.1 1.5 0.7" fill="none"/>
<path d="M561.0 542.2L566.6 543.6M563.8 552.0L565.9 547.8M544.3 538.0L551.3 540.8M546.4 529.7L548.5 535.3M552.6 538.0L555.4 543.6" stroke="#4b7eb3" stroke-width="2.5" fill="none"/>
<path d="M544.3 524.8L555.4 525.5" stroke="#4b7eb3" stroke-width="2.5" stroke-dasharray="2.2 0.8 3.6 1.1 1.5 0.7" fill="none"/>
<path d="M551.3 529.7L555.4 533.9" stroke="#3dd66c" stroke-width="2.2" fill="none"/>
<path d="M574.9 532.5L576.3 545.0" stroke="#3dd66c" stroke-width="2.2" stroke-dasharray="2.2 0.8 3.6 1.1 1.5 0.7" fill="none"/>
<path d="M440.7 548.5L440.7 550.6M443.2 559.0L443.2 560.6M453.4 528.3L453.4 531.8" stroke="#4e67a5" stroke-width="1.8" fill="none"/>
<path d="M446.0 556.2L449.5 557.6M430.0 568.7L434.9 570.8M466.9 578.5L471.8 579.2" stroke="#4e67a5" stroke-width="2.5" fill="none"/>
<path d="M456.5 555.5L458.6 554.5L460.0 556.4L459.0 558.7L456.9 558.3Z" fill="url(#pa)"/>
<path d="M460.7 564.3L471.8 557.8" stroke="#4b7eb3" stroke-width="4.9" stroke-dasharray="2.2 0.8 3.6 1.1 1.5 0.7" fill="none"/>
<path d="M462.8 562.4L469.7 559.2" stroke="#62c0da" stroke-width="1.8" fill="none"/>
<path d="M464.1 567.3L468.3 565.9M469.0 554.8L471.8 556.2" stroke="#4b7eb3" stroke-width="2.2" fill="none"/>
<path d="M457.2 571.1L459.3 571.1M430.0 580.6L433.5 582.6" stroke="#4e67a5" stroke-width="3.1" fill="none"/>
<path d="M442.5 582.6L445.3 578.5L450.9 578.5L454.4 581.3L457.2 584.7L462.1 586.1L465.5 588.9L467.6 592.4L471.8 594.5L475.3 598.0L476.0 602.9L471.8 603.6L468.3 600.8L463.4 599.4L460.0 600.8L464.1 604.9L467.6 607.7L465.5 610.0L452.3 610.0L450.9 606.3L453.0 602.2L455.8 599.4L450.9 597.3L446.7 598.0L443.2 597.3L443.9 593.8L448.8 592.4L453.0 591.0L450.9 587.5L446.7 585.4L443.9 586.1Z" fill="url(#pb)"/>
<path d="M457.9 589.6L464.8 591.7" stroke="#4e67a5" stroke-width="3.6" fill="none"/>
<path d="M462.1 602.2L473.2 600.8" stroke="#4e67a5" stroke-width="3.6" stroke-dasharray="2.2 0.8 3.6 1.1 1.5 0.7" fill="none"/>
<path d="M443.9 581.3L450.9 580.6" stroke="#62c0da" stroke-width="2.2" fill="none"/>
<path d="M478.1 603.6L479.5 607.7" stroke="#4e67a5" stroke-width="3.1" fill="none"/>
<path d="M527.6 575.7L535.9 572.9M483.0 590.3L491.3 588.2M496.9 586.8L502.5 585.4M485.7 593.8L491.3 595.9" stroke="#4b7eb3" stroke-width="3.1" fill="none"/>
<path d="M493.4 583.3L503.9 578.5M503.9 578.5L513.6 572.9M555.4 585.4L565.9 579.2" stroke="#4b7eb3" stroke-width="3.1" stroke-dasharray="2.2 0.8 3.6 1.1 1.5 0.7" fill="none"/>
<path d="M513.6 572.2L527.6 575.7M533.1 578.5L551.3 575.7" stroke="#4b7eb3" stroke-width="4.0" stroke-dasharray="2.2 0.8 3.6 1.1 1.5 0.7" fill="none"/>
<path d="M515.0 571.5L526.2 575.0" stroke="#5fd5c2" stroke-width="1.7" stroke-dasharray="2.2 0.8 3.6 1.1 1.5 0.7" fill="none"/>
<path d="M548.5 570.1L552.6 567.3L559.6 564.5L565.9 562.4L567.3 565.2L562.4 568.0L558.2 571.5L551.3 573.6Z" fill="url(#pb)"/>
<path d="M540.1 591.0L549.9 582.6" stroke="#5fd5c2" stroke-width="3.1" stroke-dasharray="2.2 0.8 3.6 1.1 1.5 0.7" fill="none"/>
<path d="M549.9 582.6L555.4 586.1" stroke="#3dd66c" stroke-width="2.7" fill="none"/>
<path d="M556.1 595.2L563.8 590.3M580.5 585.4L590.0 593.8" stroke="#5fd5c2" stroke-width="4.0" stroke-dasharray="2.2 0.8 3.6 1.1 1.5 0.7" fill="none"/>
<path d="M563.8 590.3L580.5 585.4" stroke="#5fd5c2" stroke-width="4.9" stroke-dasharray="2.2 0.8 3.6 1.1 1.5 0.7" fill="none"/>
<path d="M557.5 596.3L560.3 594.1" stroke="#3dd66c" stroke-width="2.2" fill="none"/>
<path d="M570.8 556.2L576.3 563.1M576.3 555.5L581.9 557.6" stroke="#4b7eb3" stroke-width="4.0" fill="none"/>
<path d="M574.9 564.5L586.1 575.7" stroke="#4b7eb3" stroke-width="5.4" stroke-dasharray="2.2 0.8 3.6 1.1 1.5 0.7" fill="none"/>
<path d="M576.3 566.6L579.8 570.1" stroke="#3dd66c" stroke-width="1.8" fill="none"/>
<path d="M491.3 602.2L496.9 602.9M510.1 607.0L517.8 606.3M522.0 603.8L526.2 603.8" stroke="#4b7eb3" stroke-width="2.2" fill="none"/>
<path d="M533.1 598.0L540.1 597.3" stroke="#5a9ec8" stroke-width="2.5" fill="none"/>
<path d="M502.5 602.2L511.5 600.8" stroke="#5a9ec8" stroke-width="2.5" stroke-dasharray="2.2 0.8 3.6 1.1 1.5 0.7" fill="none"/>
<path d="M534.5 604.9L541.5 609.1" stroke="#4b7eb3" stroke-width="3.1" fill="none"/>
<path d="M561.0 462.8L562.7 462.8M572.2 463.9L573.8 463.9M572.2 469.1L573.8 469.1M541.5 473.2L543.6 472.8M552.6 492.8L554.3 492.8M448.8 480.2L450.9 479.2M529.7 515.7L531.7 515.1" stroke="#5a70a8" stroke-width="2.0" fill="none"/>
<path d="M534.3 564.1h1.0v1.0h-1.0zM566.8 573.2h1.5v1.5h-1.5zM536.2 553.5h1.0v1.0h-1.0zM505.8 549.2h1.0v1.0h-1.0zM507.7 538.1h1.0v1.0h-1.0zM524.8 536.0h1.0v1.0h-1.0zM480.4 527.5h1.5v1.5h-1.5zM501.2 535.1h1.2v1.2h-1.2zM514.6 531.3h1.5v1.5h-1.5zM509.1 526.7h1.2v1.2h-1.2zM550.6 528.2h1.0v1.0h-1.0zM474.8 537.4h1.5v1.5h-1.5zM459.8 571.6h1.0v1.0h-1.0zM468.2 521.5h1.2v1.2h-1.2zM500.8 564.8h1.2v1.2h-1.2zM528.1 549.7h1.5v1.5h-1.5zM563.5 560.1h1.5v1.5h-1.5zM499.5 507.8h1.5v1.5h-1.5zM519.2 533.2h1.0v1.0h-1.0zM546.2 528.9h1.0v1.0h-1.0zM483.8 533.7h1.2v1.2h-1.2zM540.5 525.5h1.0v1.0h-1.0zM525.5 553.2h1.0v1.0h-1.0zM510.7 547.2h1.5v1.5h-1.5zM537.5 561.3h1.5v1.5h-1.5zM514.8 499.9h1.5v1.5h-1.5zM521.0 554.2h1.2v1.2h-1.2zM554.1 568.0h1.5v1.5h-1.5zM504.3 561.0h1.0v1.0h-1.0zM502.8 544.6h1.2v1.2h-1.2zM515.2 569.8h1.0v1.0h-1.0zM529.0 578.2h1.2v1.2h-1.2zM558.3 538.7h1.5v1.5h-1.5zM457.9 537.3h1.2v1.2h-1.2zM463.2 533.4h1.2v1.2h-1.2zM482.0 515.7h1.0v1.0h-1.0zM542.0 496.2h1.0v1.0h-1.0zM497.5 544.4h1.0v1.0h-1.0zM492.5 577.6h1.5v1.5h-1.5zM521.0 562.9h1.0v1.0h-1.0zM555.7 540.4h1.0v1.0h-1.0zM496.3 515.8h1.0v1.0h-1.0zM534.2 588.1h1.2v1.2h-1.2zM489.7 588.1h1.5v1.5h-1.5zM491.4 560.6h1.5v1.5h-1.5zM474.3 552.3h1.5v1.5h-1.5zM576.7 537.0h1.2v1.2h-1.2zM552.8 581.2h1.0v1.0h-1.0zM519.5 567.1h1.2v1.2h-1.2zM561.0 514.5h1.5v1.5h-1.5zM547.5 528.4h1.5v1.5h-1.5zM500.5 542.6h1.0v1.0h-1.0zM505.6 533.3h1.0v1.0h-1.0zM489.9 540.7h1.0v1.0h-1.0zM526.6 549.1h1.0v1.0h-1.0zM472.0 542.2h1.5v1.5h-1.5zM492.7 542.4h1.5v1.5h-1.5zM497.1 486.9h1.2v1.2h-1.2zM486.9 559.7h1.2v1.2h-1.2zM518.6 554.8h1.5v1.5h-1.5zM537.1 560.4h1.5v1.5h-1.5zM501.7 546.6h1.0v1.0h-1.0zM485.3 546.0h1.0v1.0h-1.0zM501.5 550.4h1.2v1.2h-1.2zM501.8 567.1h1.5v1.5h-1.5zM513.4 550.8h1.5v1.5h-1.5zM569.2 583.2h1.0v1.0h-1.0zM519.8 534.3h1.0v1.0h-1.0zM552.4 500.7h1.2v1.2h-1.2zM485.6 536.8h1.2v1.2h-1.2zM474.0 499.1h1.0v1.0h-1.0zM533.4 544.6h1.2v1.2h-1.2zM535.0 548.6h1.2v1.2h-1.2zM508.8 543.3h1.5v1.5h-1.5zM501.9 491.9h1.2v1.2h-1.2zM586.8 536.5h1.0v1.0h-1.0zM517.2 532.5h1.0v1.0h-1.0zM512.1 534.7h1.5v1.5h-1.5zM514.9 575.6h1.5v1.5h-1.5zM545.3 549.0h1.0v1.0h-1.0zM548.0 543.8h1.2v1.2h-1.2zM503.8 524.7h1.0v1.0h-1.0zM523.5 532.4h1.5v1.5h-1.5zM528.4 544.9h1.0v1.0h-1.0zM530.7 540.5h1.0v1.0h-1.0zM507.6 500.7h1.2v1.2h-1.2zM507.4 513.9h1.5v1.5h-1.5zM468.2 523.1h1.0v1.0h-1.0zM466.7 516.7h1.5v1.5h-1.5zM511.0 536.4h1.2v1.2h-1.2zM462.1 524.2h1.5v1.5h-1.5zM550.8 557.5h1.5v1.5h-1.5zM504.4 541.6h1.2v1.2h-1.2zM539.0 553.2h1.5v1.5h-1.5zM524.5 592.6h1.2v1.2h-1.2zM489.3 567.0h1.5v1.5h-1.5zM542.6 550.3h1.0v1.0h-1.0zM525.6 552.8h1.5v1.5h-1.5zM480.1 546.6h1.0v1.0h-1.0zM478.9 551.5h1.0v1.0h-1.0zM504.8 545.6h1.0v1.0h-1.0zM524.1 565.1h1.0v1.0h-1.0zM528.5 549.7h1.2v1.2h-1.2zM563.0 588.3h1.5v1.5h-1.5zM537.1 558.4h1.2v1.2h-1.2zM509.7 544.0h1.2v1.2h-1.2zM510.3 555.8h1.2v1.2h-1.2zM561.6 580.6h1.5v1.5h-1.5zM517.3 535.8h1.0v1.0h-1.0zM550.3 543.4h1.2v1.2h-1.2zM520.2 484.8h1.2v1.2h-1.2zM525.2 532.5h1.0v1.0h-1.0zM515.6 564.6h1.0v1.0h-1.0zM518.6 534.8h1.5v1.5h-1.5zM467.0 558.2h1.5v1.5h-1.5zM456.2 548.6h1.5v1.5h-1.5zM502.2 546.1h1.2v1.2h-1.2zM516.2 522.2h1.2v1.2h-1.2zM502.6 585.2h1.2v1.2h-1.2zM532.7 511.1h1.2v1.2h-1.2zM542.4 557.8h1.2v1.2h-1.2zM472.0 581.1h1.0v1.0h-1.0zM491.0 517.9h1.0v1.0h-1.0zM528.9 536.1h1.5v1.5h-1.5zM552.1 534.4h1.0v1.0h-1.0zM503.7 550.1h1.2v1.2h-1.2zM482.8 554.1h1.0v1.0h-1.0zM500.5 541.4h1.5v1.5h-1.5zM547.2 505.5h1.0v1.0h-1.0zM558.8 552.9h1.0v1.0h-1.0zM560.0 552.7h1.0v1.0h-1.0zM471.8 536.2h1.0v1.0h-1.0zM513.5 555.7h1.0v1.0h-1.0zM523.2 572.1h1.0v1.0h-1.0zM532.6 522.6h1.5v1.5h-1.5zM518.3 563.9h1.5v1.5h-1.5zM498.2 552.7h1.2v1.2h-1.2zM512.6 551.3h1.5v1.5h-1.5zM550.4 544.8h1.5v1.5h-1.5zM505.7 543.9h1.0v1.0h-1.0zM521.9 563.4h1.2v1.2h-1.2zM507.4 534.3h1.0v1.0h-1.0zM510.1 538.8h1.5v1.5h-1.5zM508.7 550.2h1.2v1.2h-1.2zM571.3 542.9h1.2v1.2h-1.2zM506.5 529.0h1.2v1.2h-1.2zM512.8 535.9h1.2v1.2h-1.2zM529.1 549.2h1.0v1.0h-1.0zM497.8 590.3h1.0v1.0h-1.0zM507.0 545.3h1.2v1.2h-1.2zM504.8 557.1h1.0v1.0h-1.0zM518.5 586.0h1.2v1.2h-1.2zM528.2 545.7h1.0v1.0h-1.0zM517.5 522.1h1.2v1.2h-1.2zM502.4 567.2h1.0v1.0h-1.0zM512.9 522.2h1.2v1.2h-1.2zM513.2 520.2h1.5v1.5h-1.5zM579.0 567.5h1.0v1.0h-1.0zM554.0 534.6h1.2v1.2h-1.2z" fill="#5580b0"/>
<path d="M597.0 475.9L600.9 479.1M600.9 479.1L604.4 484.6" stroke="#0fa213" stroke-width="3.1" fill="none"/>
<path d="M598.1 487.0L599.8 487.0M599.5 478.4L602.3 481.8" stroke="#12c81a" stroke-width="1.8" fill="none"/>
<path d="M608.6 484.2L614.1 485.1M593.9 492.0L597.4 491.5M600.9 510.8L605.1 510.4M600.9 514.6L602.3 514.6" stroke="#4e67a5" stroke-width="2.0" fill="none"/>
<path d="M582.1 494.4L591.1 488.8" stroke="#4b7eb3" stroke-width="3.6" stroke-dasharray="2.2 0.8 3.6 1.1 1.5 0.7" fill="none"/>
<path d="M618.3 504.1L621.1 501.4L624.6 500.0L625.3 495.8L626.7 492.3L628.1 495.8L628.8 500.0L630.2 502.8L627.4 504.8L623.2 507.6L619.7 506.9Z" fill="#0fa213"/>
<path d="M620.4 504.8L624.6 502.3M626.0 494.4L627.4 500.0" stroke="#12c81a" stroke-width="2.2" fill="none"/>
<path d="M630.9 490.2L633.7 488.1L635.7 490.9L635.1 493.7L632.3 493.0Z" fill="#0fa213"/>
<path d="M644.1 488.8L648.3 486.7L649.7 488.8L652.5 490.9L651.8 493.4L645.5 493.0Z" fill="#4e67a5"/>
<path d="M644.1 472.8L646.2 472.8M660.1 470.8L662.2 470.8M659.4 477.4L661.1 477.4M657.4 486.7L660.1 486.7M683.1 532.3L684.8 532.3M639.9 541.9L641.6 541.9" stroke="#5a70a8" stroke-width="2.5" fill="none"/>
<path d="M674.5 482.5L677.6 481.8L678.3 486.7L677.6 490.6L675.9 489.5Z" fill="#5a9ec8"/>
<path d="M679.2 480.0L683.8 480.9" stroke="#4e67a5" stroke-width="2.9" fill="none"/>
<path d="M687.3 488.1L693.6 497.9" stroke="#12c81a" stroke-width="3.1" stroke-dasharray="2.2 0.8 3.6 1.1 1.5 0.7" fill="none"/>
<path d="M693.6 497.9L695.4 501.4" stroke="#5a9ec8" stroke-width="2.7" fill="none"/>
<path d="M682.4 499.4L684.8 499.4" stroke="#0fa213" stroke-width="2.7" fill="none"/>
<path d="M693.6 518.8L695.7 525.7" stroke="#3f9f85" stroke-width="2.7" fill="none"/>
<path d="M682.0 508.3L683.8 508.3" stroke="#12c81a" stroke-width="2.7" fill="none"/>
<path d="M687.3 509.7L689.8 518.1" stroke="#4b7eb3" stroke-width="3.1" fill="none"/>
<path d="M685.5 522.3L686.6 530.6" stroke="#5a9ec8" stroke-width="1.7" fill="none"/>
<path d="M622.5 527.8L626.7 526.4L628.1 529.9L629.5 532.7L628.1 536.9L624.6 536.9Z" fill="#4b7eb3"/>
<path d="M632.3 530.2L639.9 530.8" stroke="#5a9ec8" stroke-width="2.9" fill="none"/>
<path d="M642.3 529.2L644.5 531.0" stroke="#12c81a" stroke-width="2.2" fill="none"/>
<path d="M647.6 536.9L651.1 535.5L652.5 529.9L654.6 529.2L655.3 533.4L657.8 534.1L656.0 536.9L653.9 538.3L653.2 542.5L650.4 542.5L649.0 539.7Z" fill="#4b7eb3"/>
<path d="M648.0 537.6L650.5 539.7" stroke="#0fa213" stroke-width="3.1" fill="none"/>
<path d="M661.5 533.7L665.7 534.1M663.2 534.1L663.6 537.6M603.0 536.9L605.1 543.9M603.7 546.9L606.5 547.5" stroke="#4b7eb3" stroke-width="2.0" fill="none"/>
<path d="M602.3 533.0L605.8 533.4" stroke="#4e67a5" stroke-width="2.7" fill="none"/>
<path d="M604.0 552.5L607.2 556.1" stroke="#4b7eb3" stroke-width="2.9" fill="none"/>
<path d="M586.3 518.1L593.2 523.7" stroke="#4b7eb3" stroke-width="5.4" fill="none"/>
<path d="M581.7 524.4L585.3 529.7" stroke="#4b7eb3" stroke-width="3.6" fill="none"/>
<path d="M593.9 527.1L595.6 527.8M619.0 556.4L626.0 553.6" stroke="#4b7eb3" stroke-width="2.5" fill="none"/>
<path d="M631.6 566.2L633.7 560.6L638.5 559.2L639.2 552.9L643.4 552.2L645.5 557.8L649.7 557.1L651.8 559.2L651.1 562.0L645.5 562.7L642.7 567.6L641.3 573.1L637.1 576.6L633.7 575.9L632.3 571.7Z" fill="url(#pb)"/>
<path d="M635.5 572.4L639.7 572.9M641.6 561.3L644.5 561.3" stroke="#12c81a" stroke-width="3.6" fill="none"/>
<path d="M613.4 575.9L616.2 571.7L619.7 567.6L621.8 563.4L624.6 561.3L627.4 564.8L628.1 569.0L630.9 571.7L629.5 575.9L624.6 578.7L621.8 582.9L619.0 586.4L616.9 583.6L614.1 580.8Z" fill="url(#pb)"/>
<path d="M616.9 577.3L624.6 567.6" stroke="#5a9ec8" stroke-width="2.7" stroke-dasharray="2.2 0.8 3.6 1.1 1.5 0.7" fill="none"/>
<path d="M616.0 580.1L621.8 575.9" stroke="#62c0da" stroke-width="2.2" fill="none"/>
<path d="M626.3 573.8L630.5 573.4" stroke="#3dd66c" stroke-width="3.6" fill="none"/>
<path d="M591.1 580.1L595.3 575.9L598.1 573.1L596.7 567.6L600.9 566.2L603.0 570.3L604.4 575.2L608.6 573.1L612.8 567.6L616.9 566.2L614.8 571.7L611.4 577.3L607.9 580.1L603.0 582.9L599.5 587.1L595.3 589.9L591.8 590.6L590.5 585.7Z" fill="url(#pb)"/>
<path d="M593.2 580.8L602.3 577.6" stroke="#3dd66c" stroke-width="3.1" stroke-dasharray="2.2 0.8 3.6 1.1 1.5 0.7" fill="none"/>
<path d="M592.5 587.8L598.1 583.6" stroke="#62c0da" stroke-width="2.7" fill="none"/>
<path d="M600.9 580.8L612.1 573.4" stroke="#62c0da" stroke-width="2.7" stroke-dasharray="2.2 0.8 3.6 1.1 1.5 0.7" fill="none"/>
<path d="M591.8 588.5L595.3 586.4" stroke="#3dd66c" stroke-width="1.8" fill="none"/>
<path d="M655.3 555.0L658.0 559.2M662.2 548.7L667.1 553.6" stroke="#4b7eb3" stroke-width="2.9" fill="none"/>
<path d="M658.7 553.9L663.6 557.1" stroke="#0fa213" stroke-width="2.7" fill="none"/>
<path d="M667.5 555.3L669.2 563.4" stroke="#3dd66c" stroke-width="2.7" fill="none"/>
<path d="M672.0 550.1L674.1 546.7L679.7 546.0L679.7 548.3L676.2 549.4L674.8 552.9L672.3 553.3Z" fill="#4b7eb3"/>
<path d="M697.1 536.9L699.2 536.6L701.5 539.7L701.3 542.5L698.2 541.8Z" fill="#4e67a5"/>
<path d="M702.4 531.3L706.1 529.2L706.8 535.2L702.6 535.5Z" fill="#4b7eb3"/>
<path d="M712.4 529.7L714.5 531.3M715.9 529.7L714.5 531.3M714.5 531.3L713.8 538.3" stroke="#4b7eb3" stroke-width="2.5" fill="none"/>
<path d="M691.1 541.1L693.2 548.0" stroke="#5a9ec8" stroke-width="3.1" fill="none"/>
<path d="M698.2 549.4L698.2 558.5" stroke="#3f9f85" stroke-width="2.5" stroke-dasharray="2.2 0.8 3.6 1.1 1.5 0.7" fill="none"/>
<path d="M734.0 496.5L740.0 495.1L740.0 506.9L734.7 507.6L736.8 502.8L734.0 500.0Z" fill="#4b7eb3"/>
<path d="M736.9 515.3L736.9 518.1" stroke="#5a9ec8" stroke-width="2.5" fill="none"/>
<path d="M731.9 580.8L730.8 587.1" stroke="#0fa213" stroke-width="2.9" fill="none"/>
<path d="M734.7 581.5L740.0 580.8L740.0 588.5L735.4 588.2Z" fill="#0fa213"/>
<path d="M600.9 592.9L605.8 594.7M607.2 596.6L608.6 596.6" stroke="#4b7eb3" stroke-width="2.2" fill="none"/>
<path d="M609.5 592.6L614.1 587.8" stroke="#4b7eb3" stroke-width="2.9" fill="none"/>
<path d="M587.2 603.8L589.5 602.7" stroke="#4e67a5" stroke-width="2.5" fill="none"/>
<path d="M296.3 517.4L303.2 515.6L303.9 522.3L296.7 523.0Z" fill="#4e67a5"/>
<path d="M304.9 509.1L304.9 513.9M341.3 530.0L341.3 534.1M338.4 542.5L338.4 546.0M375.3 538.3L375.3 540.4M440.8 548.1L440.8 550.9" stroke="#4e67a5" stroke-width="1.7" fill="none"/>
<path d="M322.3 523.0L326.5 521.6L328.7 519.5L334.3 520.9L334.6 526.5L331.8 528.6L331.1 532.8L327.9 531.4L326.5 532.8L323.4 530.0Z" fill="#4b7eb3"/>
<path d="M324.1 523.7L324.8 529.3" stroke="#3f9f85" stroke-width="1.8" fill="none"/>
<path d="M311.6 528.6L317.2 528.6L316.5 535.5L313.7 539.0L312.0 536.2Z" fill="#5a9ec8"/>
<path d="M303.2 536.2L304.6 527.9L306.4 535.5L307.8 540.4L310.2 540.4L309.8 553.0L308.1 552.7L307.4 546.7L304.6 550.2L303.2 547.4Z" fill="#5a9ec8"/>
<path d="M304.2 537.4L307.3 537.4" stroke="#0fa213" stroke-width="3.1" fill="none"/>
<path d="M298.9 542.5L298.9 545.7" stroke="#4b7eb3" stroke-width="2.0" fill="none"/>
<path d="M370.1 524.4L379.2 520.9L378.1 527.2L370.6 527.6Z" fill="#4b7eb3"/>
<path d="M356.2 535.1L359.0 535.5M360.4 530.2L361.8 530.2M362.6 532.1L362.6 537.9M366.0 538.9L369.7 538.9M385.1 557.8L386.9 557.8M395.9 557.0L397.0 557.0M366.0 573.4L367.8 573.4M405.0 588.6L407.1 588.6M401.5 576.9L402.6 576.9M425.9 584.7L427.3 584.7M414.0 600.6L417.5 600.6M422.4 605.2L423.8 605.2" stroke="#4e67a5" stroke-width="2.2" fill="none"/>
<path d="M385.5 539.0L386.2 549.5" stroke="#4b7eb3" stroke-width="2.2" fill="none"/>
<path d="M372.2 567.2L373.9 572.5" stroke="#4b7eb3" stroke-width="2.7" fill="none"/>
<path d="M385.9 571.8L387.6 575.3" stroke="#5a9ec8" stroke-width="2.0" fill="none"/>
<path d="M389.7 572.8L393.8 576.7M401.8 580.6L407.1 585.7" stroke="#4e67a5" stroke-width="3.8" fill="none"/>
<path d="M394.3 576.0L399.0 583.6" stroke="#4b7eb3" stroke-width="4.5" fill="none"/>
<path d="M397.0 579.4L399.3 579.7" stroke="#0fa213" stroke-width="2.7" fill="none"/>
<path d="M422.4 562.4L424.9 566.2M430.1 579.7L433.6 582.9" stroke="#4e67a5" stroke-width="2.7" fill="none"/>
<path d="M433.1 567.9L435.4 571.8M441.9 558.8L444.7 560.6M447.5 564.4L450.0 564.4" stroke="#4e67a5" stroke-width="2.0" fill="none"/>
<path d="M446.1 556.0L450.0 557.8" stroke="#4b7eb3" stroke-width="2.5" fill="none"/>
<path d="M442.6 583.6L444.7 578.7L450.0 578.0L450.0 585.0L444.0 587.1Z" fill="#5a9ec8"/>
<path d="M442.2 595.9L450.0 592.3" stroke="#4b7eb3" stroke-width="4.0" fill="none"/>
<path d="M347.8 591.3L348.8 600.3M353.6 592.0L353.6 596.2" stroke="#4b7eb3" stroke-width="2.0" fill="none"/>
<path d="M355.5 598.3L365.3 597.6L368.7 601.0L368.0 605.2L362.5 604.5L356.2 603.1Z" fill="#4b7eb3"/>
<path d="M373.2 601.3L379.2 603.8" stroke="#12c81a" stroke-width="3.6" fill="none"/>
<path d="M372.2 607.6L379.2 610.8M391.7 616.0L395.9 617.1" stroke="#4b7eb3" stroke-width="2.9" fill="none"/>
<path d="M379.9 599.7L385.9 609.8" stroke="#4b7eb3" stroke-width="4.9" fill="none"/>
<path d="M382.0 603.1L384.8 608.0" stroke="#3dd66c" stroke-width="1.7" fill="none"/>
<path d="M380.9 617.1L387.6 614.6" stroke="#4b7eb3" stroke-width="3.1" fill="none"/>
<path d="M384.8 616.5L390.3 617.8" stroke="#12c81a" stroke-width="2.0" fill="none"/>
<path d="M396.9 609.4L405.7 605.9" stroke="#12c81a" stroke-width="2.7" fill="none"/>
<path d="M405.7 606.6L414.0 610.1M414.0 610.1L418.2 618.5" stroke="#4b7eb3" stroke-width="4.0" fill="none"/>
<path d="M401.5 615.0L409.9 611.5M402.9 618.5L411.3 616.4" stroke="#4b7eb3" stroke-width="3.1" fill="none"/>
<path d="M405.7 621.3L409.9 619.9" stroke="#4b7eb3" stroke-width="2.5" fill="none"/>
<path d="M417.9 604.3L423.5 610.1" stroke="#4b7eb3" stroke-width="4.0" fill="none"/>
<path d="M427.7 606.2L430.8 615.7" stroke="#5a9ec8" stroke-width="3.1" fill="none"/>
<path d="M423.8 615.7L426.6 615.0" stroke="#4e67a5" stroke-width="2.0" fill="none"/>
<path d="M430.8 613.6L440.5 617.8" stroke="#3f9f85" stroke-width="3.6" fill="none"/>
<path d="M435.6 616.5L439.8 617.9" stroke="#0fa213" stroke-width="2.7" fill="none"/>
<path d="M448.6 610.1L448.9 619.9" stroke="#4b7eb3" stroke-width="2.7" fill="none"/>
<path d="M473.2 612.5L481.9 619.2M532.4 611.8L544.6 614.6" stroke="#4b7eb3" stroke-width="5.6" fill="none"/>
<path d="M485.4 620.9L504.5 621.8M511.5 617.4L522.0 620.0M522.0 614.3L534.1 616.0M548.1 613.4L555.1 615.7" stroke="#4b7eb3" stroke-width="3.9" fill="none"/>
<path d="M508.0 612.5L513.2 613.9" stroke="#4b7eb3" stroke-width="2.5" fill="none"/>
<path d="M573.3 607.8L575.1 607.8M582.9 618.8L585.5 618.8M579.4 631.5L582.1 631.5M549.5 637.8L551.2 637.8M553.3 626.5L555.1 626.5M500.2 640.4L501.9 640.4M504.2 650.3L505.9 650.3M459.2 642.0L461.0 642.0M454.0 649.0L456.1 649.0M521.1 664.5L522.8 664.5M571.6 668.3L574.2 668.3M500.2 678.9L503.1 678.9M524.0 679.6L528.9 679.6M531.5 677.9L535.0 677.9M410.1 687.1L412.5 687.1M418.3 691.6L421.8 691.6M569.0 714.1L571.6 714.1M555.1 715.7L558.5 715.7" stroke="#5a70a8" stroke-width="2.5" fill="none"/>
<path d="M466.7 653.1L466.7 657.5" stroke="#4b7eb3" stroke-width="2.5" fill="none"/>
<path d="M598.6 657.5L598.6 661.0" stroke="#4b7eb3" stroke-width="3.3" fill="none"/>
<path d="M572.5 681.9L577.7 679.8L581.2 683.3L581.5 685.7L576.8 684.0L572.8 683.6Z" fill="#3f9f85"/>
<path d="M418.3 681.2L421.8 681.2M412.2 701.2L415.7 701.2" stroke="#4e67a5" stroke-width="3.1" fill="none"/>
<path d="M402.1 688.5L403.8 688.5" stroke="#3f9f85" stroke-width="4.5" fill="none"/>
<path d="M417.4 704.9L427.0 703.8M454.9 700.0L465.3 701.0" stroke="#4b7eb3" stroke-width="4.5" fill="none"/>
<path d="M420.9 704.5L426.1 703.8" stroke="#5a9ec8" stroke-width="2.2" fill="none"/>
<path d="M442.7 699.7L450.5 700.7" stroke="#3f9f85" stroke-width="3.6" fill="none"/>
<path d="M458.4 705.4L464.8 705.4" stroke="#4b7eb3" stroke-width="3.1" fill="none"/>
<path d="M420.6 719.0L427.9 719.9" stroke="#5fd5c2" stroke-width="5.6" fill="none"/>
<path d="M422.6 719.0L427.0 719.5" stroke="#0fa213" stroke-width="2.5" fill="none"/>
<path d="M439.2 732.8L447.0 735.0" stroke="#0fa213" stroke-width="3.9" fill="none"/>
<path d="M437.5 731.7L442.7 732.4" stroke="#5fd5c2" stroke-width="1.7" fill="none"/>
<path d="M483.6 730.1L488.0 730.1M472.3 737.3L475.8 737.3M494.1 709.2L497.6 709.2" stroke="#0a760e" stroke-width="1.7" fill="none"/>
<path d="M496.7 705.1L499.3 705.1M496.2 715.2L499.0 715.2M526.3 728.2L529.8 728.2" stroke="#3f9f85" stroke-width="2.8" fill="none"/>
<path d="M522.8 714.5L534.1 715.9" stroke="#5a9ec8" stroke-width="3.9" fill="none"/>
<path d="M514.1 720.6L525.4 720.2" stroke="#4b7eb3" stroke-width="2.8" fill="none"/>
<path d="M522.0 720.6L529.8 722.8" stroke="#4b7eb3" stroke-width="3.6" fill="none"/>
<path d="M543.7 735.0L553.3 734.5L553.7 739.4L547.2 739.7Z" fill="#4b7eb3"/>
<path d="M552.4 723.3L561.1 727.2" stroke="#12c81a" stroke-width="4.5" fill="none"/>
<path d="M553.3 724.6L560.3 728.0" stroke="#3dd66c" stroke-width="2.0" fill="none"/>
<path d="M549.8 728.4L556.8 729.8" stroke="#4b7eb3" stroke-width="3.6" fill="none"/>
<path d="M562.0 728.9L569.9 726.3" stroke="#5a9ec8" stroke-width="3.3" fill="none"/>
<path d="M569.9 724.7L574.2 724.7" stroke="#5fd5c2" stroke-width="1.7" fill="none"/>
<path d="M569.9 720.2L573.3 720.2" stroke="#4b7eb3" stroke-width="3.1" fill="none"/>
<path d="M578.6 723.2L584.7 724.0M592.5 724.0L597.7 722.8" stroke="#4e67a5" stroke-width="3.6" fill="none"/>
<path d="M596.9 722.8L600.0 722.8" stroke="#0fa213" stroke-width="2.8" fill="none"/>
<path d="M585.5 710.1L595.1 715.0" stroke="#3f9f85" stroke-width="5.0" fill="none"/>
<path d="M579.4 749.8L584.7 744.6" stroke="#5a9ec8" stroke-width="3.1" fill="none"/>
<path d="M584.7 744.3L589.0 748.1" stroke="#4b7eb3" stroke-width="3.1" fill="none"/>
<path d="M553.3 751.9L556.8 751.9L556.8 755.4L553.3 755.4Z" fill="#4e67a5"/>
<path d="M400.0 757.7L404.4 757.7L407.8 762.0L413.1 764.6L417.4 767.2L416.6 772.5L413.1 774.2L407.0 770.7L402.6 768.1L400.0 765.5Z" fill="#4e67a5"/>
<path d="M428.7 773.7L437.5 776.8M400.0 779.4L402.6 780.3" stroke="#4e67a5" stroke-width="3.6" fill="none"/>
<path d="M407.0 782.4L410.5 782.4" stroke="#4e67a5" stroke-width="1.7" fill="none"/>
<path d="M447.9 786.4L469.7 787.3" stroke="#4b7eb3" stroke-width="3.9" fill="none"/>
<path d="M666.1 240.0L671.3 245.6" stroke="#4e67a5" stroke-width="6.1" fill="none"/>
<path d="M733.2 281.8L738.4 278.3L745.4 277.5L749.7 280.9L745.4 286.2L740.1 292.3L734.9 298.4L730.6 301.8L727.1 300.1L726.2 305.3L721.0 309.7L716.6 313.2L714.0 318.4L710.5 317.5L711.4 321.9L709.7 326.2L706.2 327.1L702.7 323.6L700.4 321.5L705.3 321.9L707.9 319.3L710.5 314.9L714.4 310.6L713.1 305.3L715.7 301.8L720.1 298.4L724.5 291.4L728.8 286.2Z" fill="url(#n1)"/>
<path d="M733.2 288.8L737.5 294.0M728.8 292.3L733.2 297.5" stroke="#4b7eb3" stroke-width="1.7" fill="none"/>
<path d="M767.5 270.0L772.4 274.5" stroke="#5fd5c2" stroke-width="3.3" fill="none"/>
<path d="M772.4 274.5L777.6 279.2" stroke="#5a9ec8" stroke-width="3.1" fill="none"/>
<path d="M660.0 308.8L667.8 314.0" stroke="#62c0da" stroke-width="3.3" fill="none"/>
<path d="M688.7 318.4L696.6 324.5" stroke="#3f9f85" stroke-width="2.8" fill="none"/>
<path d="M691.4 319.3L695.7 322.8" stroke="#5fd5c2" stroke-width="1.7" fill="none"/>
<path d="M754.1 309.7L757.6 307.1L761.9 310.6L764.5 308.8L768.9 305.3L771.5 308.8L768.9 314.9L764.5 320.1L762.8 325.4L757.6 330.6L756.7 337.6L752.3 341.0L748.9 345.4L745.4 343.7L741.9 339.3L737.5 337.6L734.0 331.5L736.7 328.0L741.0 332.3L745.4 334.1L744.5 328.9L747.1 324.5L751.5 321.9L754.9 316.7Z" fill="url(#n3)"/>
<path d="M755.5 324.5L759.7 328.9" stroke="#5a9ec8" stroke-width="4.5" fill="none"/>
<path d="M725.3 344.5L727.9 343.1L729.7 345.4L728.3 347.7L726.2 347.1Z" fill="#5a70a8"/>
<path d="M728.8 346.6L733.2 351.5" stroke="#5a70a8" stroke-width="1.7" fill="none"/>
<path d="M677.4 367.2L680.9 363.7L686.1 369.8L683.5 372.4Z" fill="#62c0da"/>
<path d="M681.3 363.3L684.4 360.6L690.0 365.4L687.0 369.3Z" fill="#12c81a"/>
<path d="M682.6 370.7L688.7 374.5" stroke="#4b7eb3" stroke-width="2.2" fill="none"/>
<path d="M704.4 370.7L707.9 364.6L711.4 359.3L716.6 355.0L721.8 360.2L718.4 364.6L712.3 368.9L707.0 375.0Z" fill="url(#n1)"/>
<path d="M660.0 374.1L664.4 375.0L667.8 379.4L669.6 386.3L666.1 388.1L662.6 382.9L660.0 381.1Z" fill="url(#n1)"/>
<path d="M789.3 341.4L794.5 346.6" stroke="#4e67a5" stroke-width="5.6" fill="none"/>
<path d="M782.0 348.0L787.2 344.5L792.4 351.5L794.1 360.2L789.8 362.0L788.9 370.7L784.6 372.4L780.2 377.6L775.0 374.1L770.6 370.7L773.2 366.3L778.5 362.0L782.0 358.5L782.8 353.2Z" fill="url(#n3)"/>
<path d="M795.0 358.5L797.6 351.5L801.1 350.6L805.5 358.5L809.8 363.7L804.6 368.9L800.2 369.8L797.6 364.6Z" fill="#62c0da"/>
<path d="M798.5 352.4L808.1 364.0" stroke="#3f9f85" stroke-width="2.0" fill="none"/>
<path d="M772.9 373.8L780.2 382.5" stroke="#12c81a" stroke-width="4.5" fill="none"/>
<path d="M772.9 375.0L778.5 381.5" stroke="#c8c020" stroke-width="1.7" fill="none"/>
<path d="M765.9 386.0L770.1 393.7M771.0 382.3L775.0 386.3" stroke="#4e67a5" stroke-width="4.2" fill="none"/>
<path d="M772.7 388.4L778.5 390.7" stroke="#5a9ec8" stroke-width="4.2" fill="none"/>
<path d="M760.5 400.6L763.3 404.6M699.2 394.2L701.8 395.4M707.4 402.9L709.7 404.1M697.8 419.8L699.2 422.1M830.4 421.2L832.5 425.5M720.1 425.5L722.7 428.0" stroke="#4e67a5" stroke-width="2.8" fill="none"/>
<path d="M694.5 393.0L699.7 402.4" stroke="#4e67a5" stroke-width="3.3" fill="none"/>
<path d="M698.0 408.6L705.6 413.9" stroke="#4e67a5" stroke-width="6.1" fill="none"/>
<path d="M799.4 428.0L800.2 422.1L803.7 414.2L807.2 411.6L808.1 405.5L811.6 408.1L815.9 407.2L816.8 400.3L815.9 395.1L819.4 394.2L822.9 403.8L820.3 407.2L824.6 412.5L825.5 421.2L822.0 428.0Z" fill="url(#n2)"/>
<path d="M829.3 408.6L835.6 418.0" stroke="#4e67a5" stroke-width="5.0" fill="none"/>
<path d="M723.9 417.2L728.5 423.3" stroke="#5a9ec8" stroke-width="3.3" fill="none"/>
<path d="M732.6 418.0L738.0 424.3" stroke="#4b7eb3" stroke-width="3.9" fill="none"/>
<path d="M785.3 469.3L786.1 459.8L789.6 450.2L793.1 440.6L795.7 433.6L800.9 426.7L803.6 414.5L807.9 411.8L808.8 405.7L812.3 409.2L816.6 408.4L819.2 411.0L820.1 405.7L822.7 408.4L824.5 415.3L825.3 421.4L819.2 424.9L814.9 427.5L817.5 435.4L812.3 438.9L805.3 441.5L801.8 444.9L802.7 448.4L799.2 454.5L794.8 461.5L790.5 468.5Z" fill="url(#n2)"/>
<path d="M804.4 431.9L809.7 419.7M797.5 447.6L801.8 437.1" stroke="#4b7eb3" stroke-width="1.7" fill="none"/>
<path d="M817.1 394.9L821.3 404.4" stroke="#4e67a5" stroke-width="4.2" fill="none"/>
<path d="M830.0 408.9L835.3 417.6" stroke="#4e67a5" stroke-width="4.7" fill="none"/>
<path d="M830.0 421.8L832.1 425.6M761.0 400.9L763.1 403.7M760.7 472.8L761.4 475.8" stroke="#4e67a5" stroke-width="2.5" fill="none"/>
<path d="M779.5 435.7L784.0 445.5" stroke="#4b7eb3" stroke-width="2.8" fill="none"/>
<path d="M780.6 440.6L782.6 450.2" stroke="#12c81a" stroke-width="2.0" fill="none"/>
<path d="M783.0 447.9L785.3 454.0" stroke="#5a9ec8" stroke-width="2.2" fill="none"/>
<path d="M881.1 401.7L883.7 406.8" stroke="#0fa213" stroke-width="2.8" fill="none"/>
<path d="M941.9 459.8L943.6 465.5" stroke="#3f9f85" stroke-width="2.0" fill="none"/>
<path d="M944.1 466.2L944.8 473.0" stroke="#0a760e" stroke-width="2.2" fill="none"/>
<path d="M914.5 500.5L915.2 513.1" stroke="#0a760e" stroke-width="3.1" fill="none"/>
<path d="M745.0 450.7L748.9 457.9" stroke="#3f9f85" stroke-width="3.6" fill="none"/>
<path d="M750.6 452.8L757.6 448.6L759.2 454.8L756.2 459.0L752.7 460.4Z" fill="#12c81a"/>
<path d="M754.1 445.4L757.3 445.1L757.6 448.6L754.5 448.9Z" fill="#4e67a5"/>
<path d="M757.6 454.8L760.3 458.3" stroke="#4b7eb3" stroke-width="2.2" fill="none"/>
<path d="M749.5 461.4L752.4 465.0" stroke="#5a9ec8" stroke-width="2.2" fill="none"/>
<path d="M760.3 472.5L760.3 476.2" stroke="#4e67a5" stroke-width="2.7" fill="none"/>
<path d="M690.9 449.5L694.6 458.7" stroke="#3f9f85" stroke-width="2.2" fill="none"/>
<path d="M674.6 481.6L677.0 489.4" stroke="#3f9f85" stroke-width="2.7" fill="none"/>
<path d="M679.5 480.6L683.7 480.6" stroke="#4e67a5" stroke-width="2.0" fill="none"/>
<path d="M734.6 496.7L738.0 495.3L740.1 500.1L741.5 505.0L738.0 506.4L735.3 507.1L736.0 502.2Z" fill="#4e67a5"/>
<path d="M743.2 502.5L744.2 509.2" stroke="#12c81a" stroke-width="1.8" fill="none"/>
<path d="M745.7 506.4L748.5 505.0L749.9 510.6L748.5 516.9L745.7 516.9Z" fill="#3dd66c"/>
<path d="M747.5 507.8L747.8 514.8" stroke="#12c81a" stroke-width="1.8" fill="none"/>
<path d="M737.2 515.5L737.2 518.3" stroke="#5a9ec8" stroke-width="1.7" fill="none"/>
<path d="M751.3 542.6L753.4 538.5L757.6 538.2L757.8 544.7L755.5 545.4L754.8 550.3L753.1 550.3L753.1 545.4Z" fill="#3f9f85"/>
<path d="M661.4 535.4L666.3 535.4" stroke="#4b7eb3" stroke-width="2.7" fill="none"/>
<path d="M446.5 147.2L453.1 146.7L453.9 154.6L447.3 154.8Z" fill="#4e67a5"/>
<path d="M573.3 221.5L579.8 221.5M573.3 225.9L579.0 225.9" stroke="#4e67a5" stroke-width="3.8" fill="none"/>
<path d="M637.3 177.3L643.8 178.6" stroke="#3f9f85" stroke-width="2.5" fill="none"/>
<path d="M665.3 241.1L669.4 237.1L673.9 239.2L672.6 245.0L667.9 246.8Z" fill="#4e67a5"/>
<path d="M636.0 251.5L640.7 254.9" stroke="#5a9ec8" stroke-width="2.5" fill="none"/>
<path d="M659.5 309.0L667.9 313.4" stroke="#62c0da" stroke-width="3.3" fill="none"/>
<path d="M688.3 318.7L696.6 323.9" stroke="#5fd5c2" stroke-width="3.3" fill="none"/>
<path d="M613.0 356.3L615.1 354.7L617.2 356.8L615.6 358.9L613.5 358.4Z" fill="#5a70a8"/>
<path d="M651.7 362.1L653.8 362.1M587.1 372.2L589.7 372.2M643.3 373.3L645.4 373.3M524.9 385.3L527.5 385.3M524.9 389.5L528.1 389.5M450.5 326.8L453.6 326.8" stroke="#5a70a8" stroke-width="2.9" fill="none"/>
<path d="M641.2 381.4L644.9 381.4" stroke="#5a70a8" stroke-width="4.6" fill="none"/>
<path d="M440.0 328.6L445.2 326.5M440.0 337.8L443.9 336.4M440.0 342.5L442.6 342.5" stroke="#5a70a8" stroke-width="2.1" fill="none"/>
<path d="M703.6 623.5L706.2 628.7" stroke="#62c0da" stroke-width="3.3" fill="none"/>
<path d="M739.4 631.9L739.4 635.5M755.3 638.2L755.3 642.3" stroke="#4e67a5" stroke-width="3.3" fill="none"/>
<path d="M707.7 654.6L719.2 660.6" stroke="#4e67a5" stroke-width="3.3" fill="none"/>
<path d="M809.9 674.0L811.5 678.4M838.9 678.7L840.5 683.9" stroke="#4b7eb3" stroke-width="2.9" fill="none"/>
<path d="M895.4 689.4L899.6 701.4" stroke="#4b7eb3" stroke-width="4.6" fill="none"/>
<path d="M823.2 722.8L828.2 715.2" stroke="#5a9ec8" stroke-width="3.3" fill="none"/>
<path d="M788.5 729.4L792.9 721.3" stroke="#4e67a5" stroke-width="3.3" fill="none"/>
<path d="M676.1 716.3L679.0 714.5M659.1 765.2L662.0 763.3" stroke="#4e67a5" stroke-width="3.8" fill="none"/>
<path d="M674.3 732.8L677.4 732.0M741.7 741.6L746.2 738.0" stroke="#4e67a5" stroke-width="2.1" fill="none"/>
<path d="M633.0 683.6L644.5 678.6" stroke="#3f9f85" stroke-width="3.3" fill="none"/>
<path d="M636.2 681.9L642.3 679.3" stroke="#12c81a" stroke-width="1.7" fill="none"/>
<path d="M597.3 659.9L601.0 657.7M616.5 672.1L620.1 670.4M590.3 713.6L594.9 715.5" stroke="#4e67a5" stroke-width="2.2" fill="none"/>
<path d="M609.2 647.6L611.3 647.6" stroke="#5a9ec8" stroke-width="2.0" fill="none"/>
<path d="M622.2 633.1L624.8 633.1" stroke="#3f9f85" stroke-width="2.0" fill="none"/>
<path d="M361.9 700.0L368.7 704.7M362.1 744.4L365.8 746.5M340.5 781.0L345.2 783.6M407.1 782.6L411.0 782.6" stroke="#4e67a5" stroke-width="2.5" fill="none"/>
<path d="M345.2 783.6L349.6 785.7" stroke="#62c0da" stroke-width="2.5" fill="none"/>
<path d="M385.7 764.5L389.6 767.2" stroke="#62c0da" stroke-width="3.3" fill="none"/>
<path d="M381.0 772.6L384.4 775.8" stroke="#5fd5c2" stroke-width="3.8" fill="none"/>
<path d="M383.0 770.0L385.7 771.9M388.8 777.6L396.6 782.1M399.0 779.4L402.4 779.4" stroke="#4e67a5" stroke-width="3.3" fill="none"/>
<path d="M454.9 793.6L463.8 794.1" stroke="#4e67a5" stroke-width="3.3" fill="none"/>
<path d="M454.1 798.3L459.4 798.8" stroke="#62c0da" stroke-width="2.9" fill="none"/>
<path d="M459.4 799.3L463.3 800.1" stroke="#12c81a" stroke-width="2.9" fill="none"/>
<path d="M485.0 806.4L488.9 806.4M480.8 834.3L486.8 834.3" stroke="#5a70a8" stroke-width="3.3" fill="none"/>
<path d="M459.9 814.5L465.1 814.5" stroke="#4e67a5" stroke-width="3.8" fill="none"/>
<path d="M465.1 815.0L482.9 819.4M473.2 822.6L482.9 823.3M486.0 837.7L490.7 837.7" stroke="#4e67a5" stroke-width="1.7" fill="none"/>
<path d="M482.1 826.0L486.8 826.0L486.8 829.9L482.1 829.9Z" fill="#4e67a5"/>
<path d="M412.3 832.8L418.9 833.5" stroke="#62c0da" stroke-width="2.5" fill="none"/>
<path d="M418.3 834.1L422.8 836.1" stroke="#0a760e" stroke-width="3.3" fill="none"/>
<path d="M493.1 883.2L498.8 883.2" stroke="#5a70a8" stroke-width="4.2" fill="none"/>
<path d="M556.8 873.5L562.6 873.5" stroke="#4e67a5" stroke-width="2.9" fill="none"/>
<path d="M605.5 719.3L609.0 719.3M609.0 724.8L613.9 722.1M616.7 721.4L620.8 719.5M624.3 739.9L627.8 738.5M629.9 741.8L633.4 740.5M674.5 733.2L678.0 731.5" stroke="#4e67a5" stroke-width="1.8" fill="none"/>
<path d="M619.7 725.5L623.3 723.7" stroke="#4e67a5" stroke-width="4.0" fill="none"/>
<path d="M615.3 731.1L619.4 729.7M611.1 740.2L618.7 738.1M606.9 747.1L612.5 745.7M628.5 745.1L630.3 746.4" stroke="#4e67a5" stroke-width="2.7" fill="none"/>
<path d="M599.7 739.8L605.2 738.4" stroke="#4b7eb3" stroke-width="4.0" fill="none"/>
<path d="M603.0 735.7L604.5 737.1" stroke="#4b7eb3" stroke-width="2.2" fill="none"/>
<path d="M606.1 739.1L607.2 741.3" stroke="#3f9f85" stroke-width="2.2" fill="none"/>
<path d="M612.5 745.1L620.1 742.3L622.9 745.7L623.6 749.9L625.7 751.3L623.6 753.4L619.4 754.1L617.4 756.2L613.2 757.6L611.1 755.5L615.3 753.4L617.4 749.9L613.9 747.8Z" fill="#4b7eb3"/>
<path d="M616.0 745.7L621.5 745.1M618.0 748.5L622.2 751.3" stroke="#5a9ec8" stroke-width="2.2" fill="none"/>
<path d="M613.2 760.4L617.4 759.1" stroke="#3dd66c" stroke-width="2.7" fill="none"/>
<path d="M612.5 762.5L616.7 761.4" stroke="#12c81a" stroke-width="1.7" fill="none"/>
<path d="M616.7 759.0L620.8 758.3" stroke="#4b7eb3" stroke-width="1.8" fill="none"/>
<path d="M627.1 755.5L637.6 749.9L642.4 747.1L645.9 752.7L641.7 755.5L637.6 758.3L636.2 761.8L630.6 763.9L627.1 763.2L629.2 759.7L625.0 758.3Z" fill="#4b7eb3"/>
<path d="M624.7 756.9L638.7 752.2" stroke="#0fa213" stroke-width="2.2" fill="none"/>
<path d="M626.4 755.8L637.6 751.9" stroke="#12c81a" stroke-width="1.7" fill="none"/>
<path d="M630.6 759.0L640.3 755.5" stroke="#5a9ec8" stroke-width="1.7" fill="none"/>
<path d="M614.6 766.0L620.1 764.6" stroke="#0a760e" stroke-width="1.7" fill="none"/>
<path d="M615.3 765.7L619.4 764.6" stroke="#c8c020" stroke-width="1.7" fill="none"/>
<path d="M608.0 770.6L619.2 766.9" stroke="#5a9ec8" stroke-width="3.1" fill="none"/>
<path d="M620.1 764.6L622.9 763.6" stroke="#4e67a5" stroke-width="1.8" fill="none"/>
<path d="M658.5 764.1L660.7 762.2L662.9 764.1L660.7 766.4Z" fill="#4e67a5"/>
<path d="M675.5 715.4L677.7 713.4L679.8 715.4L677.7 717.5Z" fill="#4e67a5"/>
<path d="M188.9 570.2L189.5 581.9" stroke="#12c81a" stroke-width="2.5" fill="none"/>
<path d="M228.1 663.4L229.7 668.2" stroke="#4e67a5" stroke-width="3.3" fill="none"/>
<path d="M346.0 680.4L351.5 687.2" stroke="#3f9f85" stroke-width="3.8" fill="none"/>
<path d="M356.4 686.4L365.9 694.3" stroke="#5a9ec8" stroke-width="2.5" fill="none"/>
<path d="M347.8 493.6L347.8 497.8" stroke="#4e67a5" stroke-width="2.5" fill="none"/>
<path d="M320.6 127.7L324.6 125.9" stroke="#3f9f85" stroke-width="2.5" fill="none"/>
<path d="M324.6 125.9L328.0 125.1" stroke="#62c0da" stroke-width="2.5" fill="none"/>
<path d="M152.9 319.0L156.5 315.6L161.8 318.2L160.7 324.2L157.3 325.3L156.0 330.0L153.4 331.3L154.7 325.3Z" fill="#4e67a5"/>
<path d="M125.2 347.7L129.4 344.6M204.1 336.0L207.8 331.8M210.9 332.1L214.3 328.9M197.0 362.1L200.2 359.0M213.2 357.7L216.9 354.0M221.9 362.1L225.3 359.0" stroke="#4e67a5" stroke-width="3.3" fill="none"/>
<path d="M227.6 906.9L239.6 916.4" stroke="#0fa213" stroke-width="3.3" fill="none"/>
<path d="M565.4 540.6L565.5 545.5M568.4 544.7L568.1 549.1M574.0 543.5L574.0 546.5M575.0 545.1L574.9 547.2M582.9 515.0L583.6 516.6M583.7 538.9L583.9 542.8M543.0 515.6L545.8 518.4M583.8 549.8L583.5 552.6M567.4 512.4L569.2 515.6M563.5 557.4L562.5 560.2M575.6 529.5L576.2 532.2M549.2 525.0L550.2 526.7M565.8 537.1L566.2 541.1M564.4 520.9L566.1 524.8M563.6 531.9L564.2 534.9M572.5 543.1L572.5 544.9M553.3 524.5L555.1 528.5M583.1 532.6L583.4 534.5M571.0 523.9L572.2 527.5M571.5 558.8L570.9 561.0M553.7 550.5L552.5 555.3M576.2 532.0L576.8 535.3M563.6 517.3L564.4 518.8M566.9 546.3L566.5 550.1M557.9 561.6L556.8 563.7M547.1 533.7L547.8 536.1M551.9 530.9L553.0 534.3M547.5 518.7L549.5 521.2M575.3 548.4L574.9 552.1M572.5 561.5L571.4 564.6M567.1 551.1L566.6 553.8M577.9 517.1L579.8 521.8M546.9 516.6L548.2 518.1M566.1 523.1L567.5 526.9M581.0 546.9L580.7 550.3M574.9 534.2L575.5 539.0M585.3 531.6L585.8 535.3M551.9 535.8L552.4 538.4M559.9 556.0L558.1 560.8M570.4 527.2L571.6 531.5M582.9 524.4L583.5 526.4M549.2 539.8L549.4 543.7M553.4 537.3L553.7 539.5M579.7 540.8L579.7 542.6M562.2 535.9L562.6 538.2M582.4 529.8L583.0 532.5M549.2 524.3L550.7 527.0M545.3 529.7L546.5 532.6M565.9 512.0L568.3 515.9M586.4 538.8L586.6 542.8M466.6 603.6L465.2 602.4M477.3 624.7L475.5 623.8M478.0 598.7L474.1 595.6M459.9 600.7L458.4 599.2M463.3 588.2L461.0 585.2M451.0 614.9L449.8 613.8M461.0 612.5L459.1 610.9M450.8 602.6L449.1 600.7M469.0 603.3L467.4 601.9M497.6 603.2L495.3 602.4M497.9 607.2L493.4 605.7M501.0 607.6L498.3 606.8M463.7 594.4L460.4 590.6M451.3 583.1L449.8 580.5M496.5 598.4L492.4 596.6M456.4 608.8L453.3 605.6M456.6 611.5L453.1 608.1M478.3 602.9L475.4 600.8M454.7 584.0L453.6 582.1M505.3 621.4L503.4 621.1M451.4 610.4L450.0 609.0M464.0 600.9L461.5 598.4M456.7 596.7L454.2 593.7M472.0 613.3L469.5 611.6M451.7 594.6L449.6 591.8M454.9 616.1L452.8 614.3M461.9 589.1L460.1 586.6M468.1 581.0L466.8 579.1M460.7 595.1L458.4 592.4M480.5 613.8L479.0 613.0M497.7 603.8L494.2 602.5M476.5 606.6L474.1 605.0M487.9 592.1L486.5 591.2M468.5 621.1L464.9 618.7M469.9 585.1L467.0 581.4M470.0 615.3L467.1 613.3M503.2 612.5L500.8 611.9M506.0 621.2L501.4 620.3M459.0 579.7L458.1 578.2M478.0 608.2L475.6 606.6M465.6 594.8L463.3 592.4M482.4 614.4L480.3 613.3M490.1 596.5L488.2 595.5M464.2 604.9L461.1 602.0M469.8 595.7L468.4 594.4M448.0 583.2L446.3 580.0M495.5 600.4L491.3 598.6M448.1 589.4L446.0 586.0M487.8 602.0L484.0 599.9M458.8 595.8L456.9 593.6M480.0 586.7L478.6 585.4M496.7 598.3L493.3 596.8M490.2 608.7L487.9 607.7M474.1 621.1L471.7 619.7M452.3 602.4L449.4 598.9M504.5 574.9L501.3 573.4M545.6 579.3L542.0 581.8M582.1 584.9L580.7 587.0M511.8 567.8L508.8 566.9M507.4 579.7L503.3 578.2M580.8 581.0L579.9 582.4M505.8 567.4L503.7 566.2M552.1 573.1L549.8 575.6M541.4 567.2L537.8 570.4M570.6 580.5L567.9 584.0M556.8 567.5L555.9 568.9M580.2 572.6L579.1 574.9M552.1 565.2L550.9 567.0M510.3 586.2L505.9 585.2M513.7 568.0L508.9 566.7M520.9 580.7L518.9 580.8M576.1 567.9L574.2 572.0M514.9 580.1L510.5 579.5M515.9 576.4L512.4 576.0M584.3 586.1L582.8 588.3M570.5 565.7L568.9 569.1M566.1 575.7L565.0 577.3M514.7 581.3L511.9 581.0M532.1 563.7L528.8 565.7M559.0 579.7L557.5 581.3M499.7 575.2L496.2 573.0M516.9 566.2L514.8 566.0M532.2 570.0L529.4 571.3M569.9 577.7L567.7 580.8M518.0 603.1L515.3 603.0M520.5 601.0L516.4 601.0M546.1 619.2L542.7 620.4M537.7 610.2L534.2 611.1M542.7 617.9L540.5 618.6M537.7 603.0L535.9 603.5M530.0 608.2L527.2 608.6M530.3 601.1L525.3 601.9M517.2 612.0L513.7 611.9M523.2 601.9L518.2 602.1M512.3 616.6L507.6 616.1M538.2 613.1L534.0 614.2M514.4 609.7L512.3 609.5M510.2 608.3L507.5 607.9M547.5 614.8L543.3 616.4M556.5 611.9L553.6 613.5M534.6 607.9L532.1 608.5M549.8 618.1L546.9 619.3M511.3 601.7L506.3 600.9M533.5 608.3L528.8 609.2M537.6 608.4L534.8 609.2M545.3 605.0L541.9 606.5M507.0 525.3L510.6 523.6M483.9 526.1L485.7 522.9M477.7 533.6L478.8 530.1M472.9 526.5L474.9 521.9M481.3 532.0L481.8 530.4M477.7 517.0L479.6 514.4M504.1 518.2L507.1 516.8M494.5 512.9L498.5 510.2M495.4 517.1L499.1 514.4M473.6 532.4L475.1 527.6M485.1 512.3L488.5 509.1M499.0 512.3L500.9 511.2M497.2 538.6L498.4 535.1M487.0 525.3L488.9 522.4M491.0 521.4L493.5 518.7M480.7 533.4L481.4 531.0M499.0 506.5L503.0 504.7M488.3 533.4L489.5 530.6M482.2 522.9L483.1 521.5M446.0 563.4L445.4 561.0M442.0 560.4L441.1 555.7M458.2 559.2L457.4 556.1M471.1 548.1L470.9 546.1M461.1 562.7L459.8 558.4M459.2 555.1L458.6 551.4M463.8 561.1L463.0 558.2M596.9 564.7L595.6 568.9M602.7 563.3L601.6 567.4M624.1 548.4L623.9 551.9M607.3 555.1L606.8 558.7M617.9 548.7L617.8 551.1M605.0 580.0L603.0 584.5M616.1 577.9L615.3 580.1M608.8 577.4L607.2 581.6M605.7 553.7L605.3 556.9M621.4 564.9L620.6 568.7M643.5 553.4L643.3 556.4M598.0 574.7L596.3 578.8M612.5 561.5L612.1 563.3M613.1 576.9L611.9 580.2M611.7 570.1L610.7 573.4M602.8 570.4L602.2 572.0M618.6 561.8L618.2 563.6M647.5 556.2L647.1 560.3M603.3 561.5L602.6 564.8M609.1 580.7L608.1 583.2M609.9 559.8L609.0 564.4M621.0 558.7L620.6 561.2M596.1 558.4L595.5 561.3M609.2 573.2L608.5 575.3" stroke="#4b7eb3" stroke-width="1.5" fill="none"/>
<path d="M572.7 553.7L572.1 556.4M576.6 535.9L577.0 539.1M560.6 518.5L562.4 521.9M559.7 556.6L558.8 559.1M556.4 529.4L557.6 533.3M580.9 519.1L581.6 521.1M478.7 586.6L476.2 584.2M476.1 605.3L474.2 604.0M501.1 622.3L496.4 621.1M450.9 603.1L448.1 599.8M499.6 621.1L494.8 619.8M456.4 584.6L454.8 582.0M466.1 592.0L463.4 588.9M461.3 590.9L458.2 587.0M463.9 598.3L460.5 594.7M583.9 576.2L581.5 580.6M584.4 581.7L582.9 584.2M560.7 562.2L558.8 566.1M568.2 568.9L566.0 572.9M519.4 619.7L517.0 619.7M526.2 599.6L522.1 600.0M503.3 519.7L505.9 518.4M495.6 531.6L497.6 528.5M458.9 570.3L457.4 566.5M448.5 560.3L448.0 557.9M597.0 555.4L596.1 560.4M617.9 564.3L617.0 568.3M616.4 581.0L614.6 585.3M614.4 549.2L614.2 552.1M631.9 546.8L631.7 551.5M613.7 562.9L613.2 565.0" stroke="#5a9ec8" stroke-width="1.5" fill="none"/>
<path d="M564.4 518.6L566.0 521.7M558.0 523.2L559.6 526.6M586.6 537.6L586.8 541.0M547.6 540.2L547.8 544.5M585.7 550.8L585.4 553.8M583.0 531.6L583.5 535.1M576.6 523.2L577.6 526.1M563.4 512.8L565.3 515.8M457.1 603.4L455.2 601.5M487.0 619.3L485.5 618.7M491.8 614.2L489.0 613.1M483.4 607.6L481.3 606.4M477.7 597.6L473.7 594.4M474.3 592.1L470.8 588.7M480.3 608.3L477.7 606.7M459.3 604.1L455.8 600.5M476.5 584.7L474.3 582.4M469.9 607.2L466.9 604.7M460.8 585.6L459.2 583.2M463.8 599.8L461.2 597.1M486.7 606.3L482.8 604.1M478.5 605.8L474.3 602.9M468.8 595.4L465.2 591.8M521.9 585.1L518.7 585.3M503.1 570.9L500.3 569.1M509.7 580.0L505.8 578.9M556.7 561.0L555.4 563.7M508.6 567.8L506.6 567.0M514.7 622.0L509.8 621.6M518.2 612.0L515.4 611.9M488.4 513.0L490.4 511.2M475.8 513.6L477.0 512.0M460.0 555.1L459.4 551.0M461.9 554.3L461.5 552.0M455.9 566.7L454.5 562.3M620.2 557.9L619.7 561.2M618.3 548.7L618.2 550.4M629.0 546.5L628.9 549.5M609.4 560.3L608.4 565.2M634.7 555.1L634.2 559.3M614.5 574.5L613.4 577.8" stroke="#4e67a5" stroke-width="1.5" fill="none"/>
<path d="M565.8 558.2L565.1 560.4M561.9 514.7L563.9 518.0M572.7 517.6L574.2 521.0M555.6 549.8L555.1 552.3M561.1 547.6L560.4 552.4M562.5 524.3L563.9 527.9M553.3 518.5L554.8 520.9M544.3 514.1L547.9 517.7M574.1 533.5L574.5 535.7M561.9 541.2L561.9 546.0M580.8 527.6L581.9 532.3M460.2 611.0L456.5 607.6M493.4 600.7L491.8 600.0M482.0 602.8L477.7 600.0M479.9 612.4L477.6 611.0M475.1 593.4L472.5 591.0M479.2 616.0L476.1 614.3M558.9 582.7L555.6 585.9M513.0 569.6L510.8 569.1M557.3 581.5L555.9 582.9M520.7 575.9L518.5 576.0M540.0 569.0L538.4 570.3M548.6 580.1L546.4 581.8M563.7 576.9L562.1 579.1M509.9 607.7L506.5 607.2M535.5 604.2L530.7 605.4M524.2 602.4L520.4 602.6M517.0 618.5L514.5 618.4M480.8 524.9L483.3 520.6M489.7 516.2L491.6 514.4M467.5 562.0L466.3 558.4M446.1 566.6L444.9 562.2M635.0 561.8L634.5 564.7M595.9 571.0L594.6 574.4M634.1 571.8L632.8 576.6M615.8 577.9L614.9 580.3" stroke="#3f9f85" stroke-width="1.5" fill="none"/>
</g>
<ellipse cx="517.25" cy="540.6" rx="512.4" ry="511.6" fill="none" stroke="#808080" stroke-width="4.4"/>
<path d="M222.4 45.5V1046.5M369.0 45.5V1046.5M515.5 45.5V1046.5M662.1 45.5V1046.5M808.6 45.5V1046.5M75.5 184.3H956.5M75.5 322.8H956.5M75.5 460.2H956.5M75.5 597.1H956.5M75.5 732.6H956.5M75.5 867.5H956.5M75.5 1002.2H956.5" fill="none" stroke="#b4b4b4" stroke-width="0.6" stroke-dasharray="2.6 1.1"/>
<path d="M616.1 509.2L624.8 507.5L631.8 505.7L637.0 502.2L639.7 497.0L638.8 492.6L642.3 493.5L647.5 489.2L651.8 489.2L655.3 493.5L657.9 497.9L663.2 501.0L668.4 504.0L675.4 504.0L678.9 504.8L679.7 508.3L676.2 510.9L671.9 513.2L670.5 517.9L671.9 523.1L674.0 527.5L676.2 526.6L680.6 524.0L683.2 519.7L685.8 515.3L688.4 511.8L691.0 512.7L694.5 512.7L698.9 515.3L703.2 517.9L708.5 516.2L710.2 520.5L712.0 524.0L715.4 525.7M674.0 527.5L675.4 532.7L674.5 538.8L671.0 543.2L668.4 547.5L666.7 551.9L667.5 556.2L664.0 559.7L659.7 561.5L659.3 566.7L657.1 571.9L654.5 575.4L653.6 581.5L654.5 586.7L657.1 588.5L663.2 585.9L668.4 584.6L675.4 584.1L680.6 582.4L684.9 585.0L688.4 585.9L691.0 590.2L694.5 591.1L699.8 588.5L703.2 585.9L709.3 585.0L714.6 585.9L718.0 586.7L718.9 591.1L721.5 595.4L725.0 598.6L729.4 598.9L732.9 603.3M691.4 513.0L691.0 520.5L690.2 527.5L690.2 533.6L691.9 539.7L694.5 543.2L698.0 546.7L703.2 551.0L708.5 555.4L712.8 559.7L716.3 564.1L719.8 560.6L724.1 556.8L729.4 555.4L733.2 555.4M598.7 561.5L603.1 564.1L607.4 564.9L612.6 562.3L617.0 558.0L620.5 553.6L624.0 557.1L627.5 561.5L630.9 562.3L633.6 557.1L637.0 560.6L642.3 562.3L647.5 565.8L651.8 568.4L655.3 571.9L657.1 571.9M732.9 603.3L735.5 598.0L739.0 592.8L742.4 588.5L741.2 583.2L743.3 576.3L749.4 575.4L754.6 576.3M732.9 603.3L738.1 606.8L742.4 611.1L744.2 616.3L743.3 621.6L734.6 620.7L729.4 623.3L724.1 628.5L719.8 632.9L716.3 636.4L715.4 641.6L713.7 645.1M668.4 584.6L670.1 586.7L669.3 592.0L665.8 596.3L664.0 602.4L659.3 605.0L659.7 611.1L657.1 615.5L658.8 621.6L661.1 626.8L660.6 632.9M660.6 632.9L654.5 633.8L649.2 637.2L644.0 641.6L638.8 639.0L633.6 635.5L630.4 637.6M661.5 631.4L661.8 636.6L661.8 641.8L663.6 643.6L670.5 644.4L675.7 646.2L681.0 643.2L687.1 643.2L690.6 646.7L694.9 645.6L701.9 647.0L707.1 647.9L712.3 647.9L717.6 648.8L724.5 649.7L731.5 649.7L740.2 650.2L743.7 655.7L746.3 662.7L748.9 669.7L753.3 674.0L753.8 676.7L759.4 678.4L762.9 681.9L769.0 682.2L773.3 686.8M753.8 676.7L748.9 679.3L745.4 683.6L744.6 687.1L748.9 688.9L750.3 691.5L748.0 693.7L743.7 694.1L740.2 696.7L736.7 699.3L731.5 700.2L729.4 702.8L728.9 707.1L728.0 711.5L728.9 715.0L730.6 720.2L731.5 726.8M728.9 715.0L722.8 716.7L715.8 719.3L709.7 723.3L708.5 720.2L710.6 715.9L710.6 711.5L707.1 708.0L701.9 705.4L696.7 703.1L693.2 702.8L690.6 700.2L688.8 697.6L685.3 694.9L683.6 691.5L679.2 690.9L674.0 692.3L668.8 694.1L664.4 694.9L660.1 698.4L656.6 701.0L652.2 699.3L646.1 701.0L640.9 703.7L636.6 705.4L633.1 707.1L632.5 709.8L629.6 710.1L628.7 704.5L626.1 701.9L623.8 701.0M664.4 694.9L663.6 690.6L661.8 686.2L662.7 683.6L667.0 681.5L672.3 678.4L674.9 673.2L677.5 667.1L681.0 662.7L685.3 661.3L687.1 664.8L691.1 665.3L690.6 659.2L688.8 653.1L687.9 649.7L690.6 646.7M661.5 633.1L654.8 632.8L648.7 636.6L643.5 641.8L639.2 640.1L634.8 636.6L630.1 637.5M712.3 647.9L714.9 643.6L715.8 637.5L719.3 634.0L722.8 629.6L726.3 626.1L730.6 621.8L735.9 620.9L742.8 622.6M742.8 622.6L748.9 625.3L754.1 627.9L757.6 631.0L762.9 627.9L768.1 627.0L773.3 626.1L774.2 621.8L777.7 619.2L782.0 621.8L785.5 626.1L789.0 627.9L792.5 624.4L796.0 623.5L801.2 625.3L808.5 627.9M711.3 648.6L719.2 648.9L726.1 649.8L740.1 650.3L743.6 655.9L746.2 662.9L748.8 669.8L753.1 674.2L754.0 675.9L760.1 677.7L763.6 682.0L769.7 683.8L774.0 688.1M754.0 675.9L748.8 679.4L745.3 683.8L744.4 687.2L748.8 689.0L750.2 691.6L747.9 694.2L743.6 694.2L739.2 696.8L734.8 699.4L730.5 701.2L728.7 704.7L727.9 708.0" fill="none" stroke="#808080" stroke-width="1.55" stroke-linejoin="round"/>
<path d="M74.2 344.9L81.5 341.8L85.5 347.8L93.3 355.4L98.0 360.6L99.0 363.5L103.7 363.5L109.0 368.5L111.6 375.8L112.4 381.5L114.2 387.0L122.0 387.5L123.6 383.1L119.9 378.4L122.0 375.3L126.0 376.3L128.6 379.2L135.1 380.5L137.7 384.9L139.5 389.6L135.6 394.6L130.4 398.0L126.0 403.2L122.8 407.7L119.4 407.9L121.5 415.0L119.9 421.5L119.9 428.0L116.8 433.8L113.7 439.8L112.1 443.7L116.8 445.8L123.3 443.7L132.0 444.3L133.0 449.0L134.6 454.2L133.0 458.1L136.4 463.3L140.3 468.6L142.4 473.0L140.3 477.2L135.1 479.8L129.9 482.9L123.3 484.2L119.4 488.7L116.8 493.4L114.7 498.1L118.1 503.8L122.0 507.0L120.7 511.1L116.3 515.3L120.7 516.9L126.0 516.9L131.2 520.8L133.0 526.0L140.3 524.7L149.5 522.1L158.6 521.6L165.9 520.3L173.0 522.9L178.2 527.4L186.1 526.8L190.0 528.9L197.8 530.5L205.7 533.9L216.1 530.0L225.3 530.0L229.2 526.0L233.1 520.8L239.6 519.5L244.9 514.8L252.7 512.2L261.8 510.6L271.0 507.8L278.3 507.0L276.2 499.9L277.5 488.2L278.8 480.3L276.2 476.4L276.7 469.9L281.4 462.5L289.3 458.1L295.8 455.5L297.1 449.0L299.7 443.2L306.3 439.8L311.5 435.9L315.9 429.4L319.3 434.6L332.4 435.4L333.7 439.8L337.6 442.4L333.7 446.3L331.1 451.6L330.6 458.1L329.8 463.3L325.9 460.7L322.7 463.3L322.0 472.5L318.0 474.6L315.4 477.7L319.3 481.6L321.2 486.1L318.0 490.8L315.4 498.6L314.1 506.4L310.2 511.7L307.1 515.6L307.6 523.4L311.5 525.3L319.3 526.8L324.6 529.4L329.8 535.2L333.7 541.7L334.2 548.3L332.4 554.8L330.6 560.0L330.4 560.0L327.3 565.2L324.7 569.9L326.0 576.2L329.9 579.6L330.7 587.4L328.6 592.7L326.0 599.2L328.6 601.3L335.1 601.3L340.3 603.1L346.9 601.8L352.1 599.2L354.7 596.6L365.2 596.6L369.1 600.5L372.2 605.7L378.2 609.1L387.4 613.6L395.2 613.0L399.1 620.1L403.0 627.4L405.1 633.7L409.6 636.6L413.0 634.0L416.6 636.3L417.4 644.9L425.3 644.1L431.8 645.7L440.9 647.5L447.0 643.6L452.7 648.9L459.2 655.4L467.1 663.2L462.6 666.6L460.0 669.8L457.9 674.5L460.5 681.5L467.9 679.4L470.5 673.7L477.5 676.3L484.1 680.2L490.6 686.0L495.3 691.4L497.1 698.5L501.8 702.4L499.7 709.0L502.4 712.9L505.5 717.6L504.4 722.5L500.3 725.2L505.0 729.3L506.3 733.3L510.2 730.4L519.3 728.6L527.2 725.9L532.4 719.9L538.9 720.7L544.2 723.3L548.1 729.3L549.9 719.4L553.3 714.2L558.5 709.5L563.8 709.0L570.3 711.6L575.0 712.9L581.1 712.9L587.7 711.0L591.6 707.6L593.7 703.7L598.1 705.0L603.3 709.0L608.6 711.6L613.8 715.5L615.1 720.7L619.0 725.9L623.5 731.2L630.8 732.5L638.6 731.7L646.5 732.5L653.0 736.4L654.8 742.9L655.6 749.5L657.4 753.9L664.8 752.9L671.3 754.7L675.2 754.7L678.3 750.2L681.7 747.6L685.7 748.7L690.9 752.9L692.2 746.8L697.4 742.9L700.0 738.2L706.6 735.6L709.2 731.2L714.4 729.3L724.9 729.3L732.7 727.8L739.2 729.9L744.5 735.6L751.0 739.0L757.5 744.2L762.8 746.8L769.8 749.2M770.0 749.7L775.8 748.3L781.0 747.6L786.2 743.1L790.2 743.9L792.8 747.0L798.8 748.3L803.2 752.3L807.1 754.9L812.4 757.5L816.3 761.4L821.5 762.7L825.4 766.6L824.9 770.0L820.7 771.9L820.7 775.8L824.1 779.7L829.4 782.3L834.6 783.6L835.9 790.2L839.8 792.8L838.0 796.7L835.4 800.6L830.7 797.2L828.0 798.8L829.4 803.2L834.6 805.8L837.2 808.4L835.9 812.4L839.8 816.3L843.7 820.2L849.0 822.8L854.2 827.5L858.9 830.7L858.1 835.9L856.3 841.1L860.7 842.4L864.6 845.0L864.1 851.6L865.2 858.1L869.9 859.9L874.6 858.1L877.2 862.0L877.7 867.2L872.5 871.2L873.8 877.2L877.7 881.6L882.9 882.9L892.1 881.6L898.6 885.5L907.8 889.5L911.1 886.8L911.1 881.6L915.6 877.7L914.3 871.2L911.1 867.2L907.8 862.0L911.7 858.1L915.6 856.8L919.5 860.7L924.7 863.3L931.3 858.1L937.8 856.8L940.4 862.0L944.3 865.9L949.6 863.3L954.8 867.2L958.7 871.2M608.6 711.6L613.8 709.5L619.0 706.3L625.0 699.8L625.6 694.6L620.3 693.3L619.0 690.7L624.3 684.1L626.1 676.3L628.7 669.8L635.5 668.4L636.5 658.0L632.1 655.4L626.1 650.2L625.6 643.6L629.5 638.4L626.9 634.5L621.6 629.3L612.5 629.3L608.6 616.2L603.3 605.7L598.1 598.7L590.3 598.7L589.0 591.4L587.7 583.5L588.4 575.7L590.3 566.5L594.2 563.9L596.8 560.0L594.2 556.0L587.7 550.8L589.0 543.5L592.9 535.6L594.2 527.8L596.8 522.6L606.0 520.0L611.2 516.0L616.4 510.8L613.8 504.3L612.5 499.1L617.7 495.1L620.3 487.3L621.6 478.2L625.6 471.6L630.3 467.7L632.1 459.9L634.7 454.1L641.2 449.4L647.8 445.5L650.4 437.6L652.2 428.5L658.2 425.4L670.0 422.8L672.1 428.5L677.8 432.4L684.4 433.2L685.7 427.2L690.9 426.4L696.1 429.8L699.3 434.3L697.4 440.3L699.3 444.2L704.0 444.2L706.6 439.5L704.5 435.0L699.3 434.3M701.9 444.2L700.0 452.0L698.7 459.9L698.2 467.7L696.1 476.8L698.7 484.7L701.3 491.2L705.3 497.8L704.0 504.3L709.2 510.8L711.8 518.7L714.8 520.0L717.4 525.2L721.8 527.8L726.1 528.7L727.9 533.9L727.5 540.0L730.5 544.4L730.5 549.6L733.1 554.0L737.5 559.2L741.8 561.8L746.2 562.7L749.7 566.2L753.1 565.3L754.9 568.8L756.1 574.0L757.5 579.2L760.1 579.2L761.8 574.9L765.3 573.1L769.7 573.7L773.2 578.4L776.7 582.7L780.1 586.6L785.4 588.8L788.9 591.1L793.2 590.6L796.7 590.6L800.2 586.6L803.7 588.8L806.3 591.1L811.5 591.8L815.0 591.1L818.5 593.2L815.0 596.7L812.4 599.3L811.5 601.9L814.1 605.4L813.2 608.9L814.1 613.2L811.5 615.8L809.8 618.4L809.8 624.5L809.8 628.9L813.2 630.6L811.5 633.2L808.9 636.7L804.5 641.1L799.3 644.6L795.8 647.2L792.3 652.4L788.9 655.9L788.0 658.5L791.5 661.5L789.7 667.2L788.0 673.3L786.2 678.5L782.8 682.9L778.4 686.4L774.0 688.1L772.3 691.6L774.0 696.0L769.7 697.7L767.9 699.4L772.3 703.8L774.9 708.0L773.2 703.9L774.5 708.4L770.6 713.1L767.9 718.3L768.5 724.8L770.0 732.7L770.6 741.8L770.0 749.7M704.5 435.0L704.0 425.9L709.2 423.8L717.0 422.8L718.3 418.0L715.7 411.5L713.1 405.0L711.3 401.1L714.4 397.1L720.2 394.5L723.6 389.3L730.1 385.4L737.9 382.8L743.2 381.5L747.1 374.9L749.7 368.4L751.0 360.6L756.2 357.9L761.4 359.3L766.7 361.9L773.2 359.3L781.0 357.9L782.4 352.7L779.7 347.5L774.5 342.3L769.3 337.0L765.4 331.8L762.8 329.2L768.0 324.0L771.9 316.1L770.6 309.6L773.2 303.1L771.9 296.5L772.3 297.9L767.6 295.2L762.9 292.6L764.4 287.4L765.0 281.4L757.1 278.3L749.3 275.6L741.4 274.3L733.6 275.6L727.9 278.3L725.8 274.3L723.2 269.1L717.9 265.2L719.2 261.3L715.3 257.4L714.0 250.8L717.9 246.9L724.5 243.0L729.7 237.8L734.9 235.1L737.5 228.6L741.4 224.7L742.8 219.5L740.1 216.8L731.0 216.8L723.2 215.5L715.3 218.2L712.7 214.2L714.8 211.6L714.0 205.1L710.1 198.6L706.2 192.0L702.2 185.5L699.6 179.0L695.7 173.2L689.2 174.3L681.3 173.2L673.0 174.3L670.4 169.8L667.8 163.3L665.7 158.0L669.6 160.7L674.0 164.6L674.8 169.8L673.0 174.3M594.6 43.6L588.6 53.5L584.7 58.7L581.5 63.4L586.0 65.3L590.4 66.1L588.6 71.8L584.7 79.7L581.5 87.0L575.5 88.0L571.6 95.3L569.0 100.0L562.4 101.9L559.0 107.1L558.5 114.9L559.8 122.8L562.4 127.2L569.0 131.4L574.7 135.8L575.5 142.4L573.7 150.2L571.6 156.7L575.5 156.7L583.3 155.4L589.9 148.9L596.4 145.0L601.6 151.5L608.2 156.7L614.7 154.9L619.9 155.4L627.0 152.3L634.3 158.6L642.1 157.3L650.0 156.0L659.1 157.3L665.7 158.0M634.8 43.6L633.0 50.9L631.2 55.6L635.6 56.1L642.1 53.0L647.4 50.4L652.6 54.0L660.4 53.5L670.4 53.0L668.3 58.7L665.7 65.3L667.0 71.8L668.3 75.7L676.1 78.3L680.0 81.0L687.9 81.7L690.5 83.6L687.9 88.8L686.0 96.6L687.9 103.2L686.0 109.7L684.5 115.7L680.0 113.1L673.5 114.9L667.8 117.5L668.3 125.4L670.4 130.6L665.7 134.5L659.1 135.8L655.2 137.7L659.1 142.4L665.7 146.3L670.9 150.7L668.3 156.7L665.7 158.0" fill="none" stroke="#000" stroke-width="2.9" stroke-linejoin="round" stroke-linecap="round"/>

<circle cx="517.9" cy="543.6" r="5.3" fill="#f00" stroke="#000" stroke-width="0.8"/>
</g>
<rect x="75.5" y="45.5" width="881.0" height="1001.0" fill="none" stroke="#000" stroke-width="1.1"/>
<rect x="88.5" y="55.5" width="218" height="71.3" fill="#fff" fill-opacity="0.9" stroke="#000" stroke-width="1.3"/>
<g opacity="0.996"><text x="93.0" y="74.7" font-size="17.7" textLength="207.9" lengthAdjust="spacingAndGlyphs">Product: 0.5° Reflectivity</text></g>
<g opacity="0.996"><text x="93.0" y="95.6" font-size="17.7" textLength="128.3" lengthAdjust="spacingAndGlyphs">Range: 125 km</text></g>
<g opacity="0.996"><text x="93.0" y="116.5" font-size="17.7" textLength="94.7" lengthAdjust="spacingAndGlyphs">Data: RMIB</text></g>
<g opacity="0.996"><text x="320.42" y="37.6" font-size="36" textLength="198.62" lengthAdjust="spacingAndGlyphs">15.01.2026</text></g>
<g opacity="0.996"><text x="531.37" y="37.6" font-size="36" textLength="97.71" lengthAdjust="spacingAndGlyphs">12:38</text></g>
<g opacity="0.996"><text x="642.35" y="37.6" font-size="36" textLength="68.27" lengthAdjust="spacingAndGlyphs">UTC</text></g>
<g opacity="0.996"><text x="10.6" y="190.0" font-size="17.7" textLength="55.4" lengthAdjust="spacingAndGlyphs">50.7°N</text></g>
<g opacity="0.996"><text x="10.6" y="328.5" font-size="17.7" textLength="55.4" lengthAdjust="spacingAndGlyphs">50.4°N</text></g>
<g opacity="0.996"><text x="10.6" y="465.9" font-size="17.7" textLength="55.4" lengthAdjust="spacingAndGlyphs">50.1°N</text></g>
<g opacity="0.996"><text x="10.6" y="602.8" font-size="17.7" textLength="55.4" lengthAdjust="spacingAndGlyphs">49.8°N</text></g>
<g opacity="0.996"><text x="10.6" y="738.3" font-size="17.7" textLength="55.4" lengthAdjust="spacingAndGlyphs">49.5°N</text></g>
<g opacity="0.996"><text x="10.6" y="873.2" font-size="17.7" textLength="55.4" lengthAdjust="spacingAndGlyphs">49.2°N</text></g>
<g opacity="0.996"><text x="10.6" y="1007.9" font-size="17.7" textLength="55.4" lengthAdjust="spacingAndGlyphs">48.9°N</text></g>
<g opacity="0.996"><text x="200.4" y="1066.8" font-size="17.7" textLength="44" lengthAdjust="spacingAndGlyphs">4.5°E</text></g>
<g opacity="0.996"><text x="355.4" y="1066.8" font-size="17.7" textLength="27.3" lengthAdjust="spacingAndGlyphs">5°E</text></g>
<g opacity="0.996"><text x="493.5" y="1066.8" font-size="17.7" textLength="44" lengthAdjust="spacingAndGlyphs">5.5°E</text></g>
<g opacity="0.996"><text x="648.5" y="1066.8" font-size="17.7" textLength="27.3" lengthAdjust="spacingAndGlyphs">6°E</text></g>
<g opacity="0.996"><text x="786.6" y="1066.8" font-size="17.7" textLength="44" lengthAdjust="spacingAndGlyphs">6.5°E</text></g>
<rect x="1014.5" y="964.02" width="45.0" height="32.78" fill="#6577a8"/>
<rect x="1014.5" y="931.84" width="45.0" height="32.78" fill="#52699f"/>
<rect x="1014.5" y="899.66" width="45.0" height="32.78" fill="#4561a4"/>
<rect x="1014.5" y="867.49" width="45.0" height="32.78" fill="#4c7eb3"/>
<rect x="1014.5" y="835.31" width="45.0" height="32.78" fill="#5a9ec8"/>
<rect x="1014.5" y="803.13" width="45.0" height="32.78" fill="#66c1dc"/>
<rect x="1014.5" y="770.95" width="45.0" height="32.78" fill="#60d7c0"/>
<rect x="1014.5" y="738.77" width="45.0" height="32.78" fill="#3dd66c"/>
<rect x="1014.5" y="706.59" width="45.0" height="32.78" fill="#12c81a"/>
<rect x="1014.5" y="674.41" width="45.0" height="32.78" fill="#10b617"/>
<rect x="1014.5" y="642.24" width="45.0" height="32.78" fill="#0fa213"/>
<rect x="1014.5" y="610.06" width="45.0" height="32.78" fill="#0c8b11"/>
<rect x="1014.5" y="577.88" width="45.0" height="32.78" fill="#0a760e"/>
<rect x="1014.5" y="545.70" width="45.0" height="32.78" fill="#075c07"/>
<rect x="1014.5" y="513.52" width="45.0" height="32.78" fill="#477a0a"/>
<rect x="1014.5" y="481.34" width="45.0" height="32.78" fill="#b0b00a"/>
<rect x="1014.5" y="449.16" width="45.0" height="32.78" fill="#ffd700"/>
<rect x="1014.5" y="416.99" width="45.0" height="32.78" fill="#ffb600"/>
<rect x="1014.5" y="384.81" width="45.0" height="32.78" fill="#ff9900"/>
<rect x="1014.5" y="352.63" width="45.0" height="32.78" fill="#ff8000"/>
<rect x="1014.5" y="320.45" width="45.0" height="32.78" fill="#e30000"/>
<rect x="1014.5" y="288.27" width="45.0" height="32.78" fill="#bf0000"/>
<rect x="1014.5" y="256.09" width="45.0" height="32.78" fill="#9c0000"/>
<rect x="1014.5" y="223.91" width="45.0" height="32.78" fill="#7a0000"/>
<rect x="1014.5" y="191.74" width="45.0" height="32.78" fill="#ffe0ff"/>
<rect x="1014.5" y="159.56" width="45.0" height="32.78" fill="#ffb3ff"/>
<rect x="1014.5" y="127.38" width="45.0" height="32.78" fill="#fb66fb"/>
<rect x="1014.5" y="95.20" width="45.0" height="32.78" fill="#e933ed"/>
<rect x="1014.5" y="95.5" width="45.0" height="901.0" fill="none" stroke="#000" stroke-width="1.1"/>
<path d="M1059.5 996.5h5" stroke="#000" stroke-width="1.1"/>
<g opacity="0.996"><text x="1070" y="1007.1" font-size="30.2" textLength="16.8" lengthAdjust="spacingAndGlyphs">0</text></g>
<path d="M1059.5 867.8h5" stroke="#000" stroke-width="1.1"/>
<g opacity="0.996"><text x="1070" y="878.4" font-size="30.2" textLength="33.6" lengthAdjust="spacingAndGlyphs">10</text></g>
<path d="M1059.5 739.1h5" stroke="#000" stroke-width="1.1"/>
<g opacity="0.996"><text x="1070" y="749.7" font-size="30.2" textLength="33.6" lengthAdjust="spacingAndGlyphs">20</text></g>
<path d="M1059.5 610.4h5" stroke="#000" stroke-width="1.1"/>
<g opacity="0.996"><text x="1070" y="621.0" font-size="30.2" textLength="33.6" lengthAdjust="spacingAndGlyphs">30</text></g>
<path d="M1059.5 481.6h5" stroke="#000" stroke-width="1.1"/>
<g opacity="0.996"><text x="1070" y="492.2" font-size="30.2" textLength="33.6" lengthAdjust="spacingAndGlyphs">40</text></g>
<path d="M1059.5 352.9h5" stroke="#000" stroke-width="1.1"/>
<g opacity="0.996"><text x="1070" y="363.5" font-size="30.2" textLength="33.6" lengthAdjust="spacingAndGlyphs">50</text></g>
<path d="M1059.5 224.2h5" stroke="#000" stroke-width="1.1"/>
<g opacity="0.996"><text x="1070" y="234.8" font-size="30.2" textLength="33.6" lengthAdjust="spacingAndGlyphs">60</text></g>
<path d="M1059.5 95.5h5" stroke="#000" stroke-width="1.1"/>
<g opacity="0.996"><text x="1070" y="106.1" font-size="30.2" textLength="33.6" lengthAdjust="spacingAndGlyphs">70</text></g>
<g opacity="0.996"><text transform="translate(1133.4,548.5) rotate(-90)" font-size="29.6" text-anchor="middle" textLength="54" lengthAdjust="spacingAndGlyphs">dBZ</text></g>
</svg></body></html>
